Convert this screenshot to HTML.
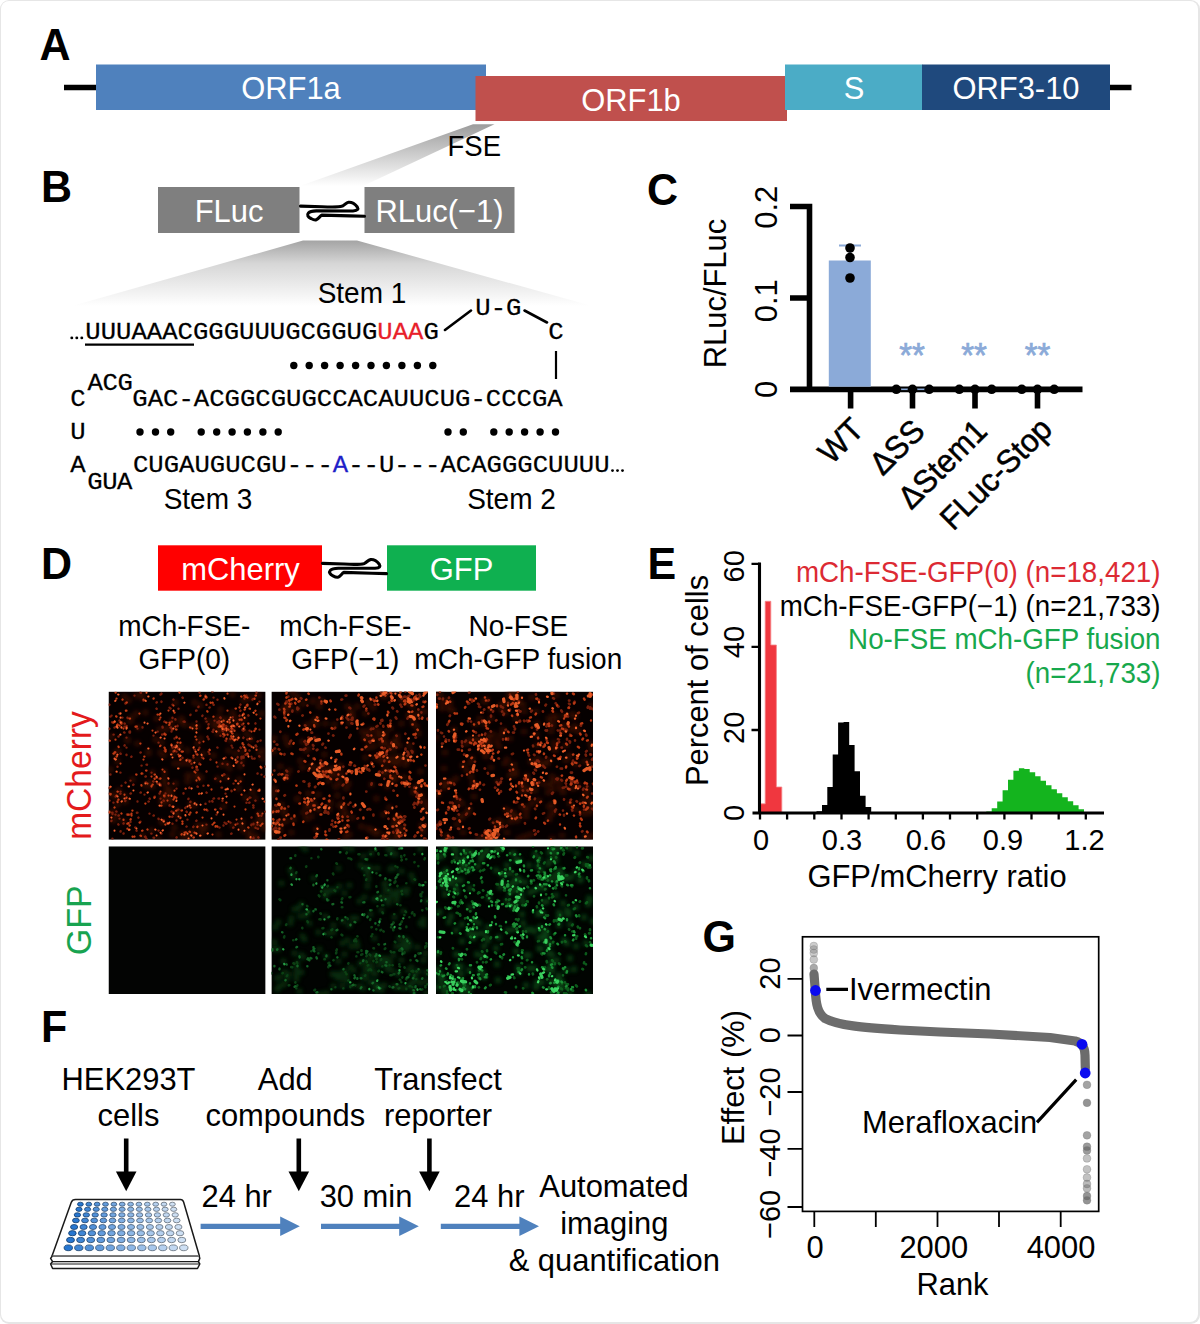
<!DOCTYPE html>
<html><head><meta charset="utf-8"><title>Figure</title>
<style>
html,body{margin:0;padding:0;background:#fff}
body{width:1200px;height:1324px;overflow:hidden}
svg{display:block}
text{font-family:"Liberation Sans",sans-serif}
.b{font-weight:bold;font-size:43px}
.w{fill:#fff}
.m{font-family:"Liberation Mono",monospace;font-size:24px;letter-spacing:0px;stroke:#000;stroke-width:0.25px}
.t30{font-size:30.9px}
.t27{font-size:28px}
</style></head><body>
<svg width="1200" height="1324" viewBox="0 0 1200 1324">
<defs>
<linearGradient id="g1" x1="0" y1="0" x2="0" y2="1"><stop offset="0" stop-color="#9c9c9c"/><stop offset="1" stop-color="#fff"/></linearGradient>
<linearGradient id="g2" x1="0" y1="0" x2="0" y2="1"><stop offset="0" stop-color="#a4a4a4"/><stop offset="0.35" stop-color="#d6d6d6"/><stop offset="1" stop-color="#fff"/></linearGradient>
<path id="sq" d="M300.5 206.1 L322 206.7 C330 207.2 338 207.4 342.5 206.1 C345 205 346 202.6 348.5 202.3 C352 202 355 204 357.3 207 C358.6 209 358 210.6 353 211 L316.3 210.9 C312 211 309.5 211.8 308.4 213 C306.6 215 308 217 311 218.5 C313 219.6 315 220.3 316.2 219.8 C318.5 219 320 216 321.8 215.1 L350 215.9 L364.5 216.3" fill="none" stroke="#000" stroke-width="3.1" stroke-linecap="round" stroke-linejoin="round"/>
<filter id="bl1" x="-5%" y="-5%" width="110%" height="110%"><feGaussianBlur stdDeviation="0.7"/></filter>
<filter id="bl2" x="-5%" y="-5%" width="110%" height="110%"><feGaussianBlur stdDeviation="2.2"/></filter>
</defs>
<rect x="0" y="0" width="1200" height="1324" rx="9" ry="9" fill="#e6e6e6"/><rect x="1" y="1" width="1197" height="1321" rx="8" ry="8" fill="#fff"/>
<g id="pA">
<text transform="translate(39.5 59.5) scale(1 1.04)" class="b">A</text>
<path d="M64 87.5H98M1108 87.5H1131.5" stroke="#000" stroke-width="5.5"/>
<rect x="96" y="64.5" width="390" height="45.5" fill="#4f81bd"/>
<rect x="475.5" y="76" width="311.5" height="45" fill="#c0504d"/>
<rect x="785" y="64.5" width="137.5" height="45.5" fill="#4bacc6"/>
<rect x="922" y="64.5" width="188" height="45.5" fill="#1f497d"/>
<text transform="translate(291 99) scale(1 1.04)" class="w t30" text-anchor="middle">ORF1a</text>
<text transform="translate(631 110.5) scale(1 1.04)" class="w t30" text-anchor="middle">ORF1b</text>
<text transform="translate(854 99) scale(1 1.04)" class="w t30" text-anchor="middle">S</text>
<text transform="translate(1016 99) scale(1 1.04)" class="w t30" text-anchor="middle">ORF3-10</text>
<polygon points="473,124.3 494.5,124.3 363,186 300,186" fill="url(#g1)"/>
<text transform="translate(447.5 156) scale(1 1.04)" font-size="27.5">FSE</text>
</g>
<g id="pB">
<text transform="translate(41 202) scale(1 1.04)" class="b">B</text>
<polygon points="303,240.5 357,240.5 592,306 72,306" fill="url(#g2)"/>
<rect x="158" y="187" width="141.5" height="46" fill="#7f7f7f"/>
<rect x="364.5" y="187" width="150" height="46" fill="#7f7f7f"/>
<text transform="translate(229 222) scale(1 1.04)" class="w t30" text-anchor="middle">FLuc</text>
<text transform="translate(439.5 222) scale(1 1.04)" class="w t30" text-anchor="middle">RLuc(&#8722;1)</text>
<use href="#sq"/>
<text transform="translate(362 302.5) scale(1 1.04)" class="t27" text-anchor="middle">Stem 1</text>
<text transform="translate(208 509) scale(1 1.04)" class="t27" text-anchor="middle">Stem 3</text>
<text transform="translate(511.5 509) scale(1 1.04)" class="t27" text-anchor="middle">Stem 2</text>
<text class="m" transform="translate(85.3 339.3) scale(1.068 1)">UUUAAACGGGUUUGCGGUG<tspan style="fill:#e8202a;stroke:#e8202a">UAA</tspan>G</text>
<path d="M85 344.7H194" stroke="#000" stroke-width="2.2"/>
<text class="m" transform="translate(475.3 314.5) scale(1.068 1)">U-G</text>
<text class="m" transform="translate(548.3 339.3) scale(1.068 1)">C</text>
<path d="M445 330L471 310.5M524.5 310.5L547 322.5" stroke="#000" stroke-width="2.6" stroke-linecap="round"/>
<path d="M556 351V379" stroke="#000" stroke-width="2.2"/>
<text class="m" transform="translate(70.3 405.8) scale(1.068 1)">C</text>
<text class="m" transform="translate(87.6 389.5) scale(1.068 1)" style="letter-spacing:-0.4px">ACG</text>
<text class="m" transform="translate(132.3 405.8) scale(1.068 1)">GAC-ACGGCGUGCCACAUUCUG-CCCGA</text>
<text class="m" transform="translate(70.3 438.8) scale(1.068 1)">U</text>
<text class="m" transform="translate(70.3 472.0) scale(1.068 1)">A</text>
<text class="m" transform="translate(87.2 488.8) scale(1.068 1)" style="letter-spacing:-0.4px">GUA</text>
<text class="m" transform="translate(133.0 472.0) scale(1.068 1)">CUGAUGUCGU---<tspan style="fill:#1f1fc8;stroke:#1f1fc8">A</tspan>--U---ACAGGGCUUUU</text>
<g fill="#000"><circle cx="71.8" cy="337.9" r="1.45"/><circle cx="76.8" cy="337.9" r="1.45"/><circle cx="81.8" cy="337.9" r="1.45"/><circle cx="612.5" cy="470.6" r="1.45"/><circle cx="617.5" cy="470.6" r="1.45"/><circle cx="622.5" cy="470.6" r="1.45"/></g>
<g fill="#000"><circle cx="293.8" cy="365.5" r="3.7"/><circle cx="309.2" cy="365.5" r="3.7"/><circle cx="324.6" cy="365.5" r="3.7"/><circle cx="340.1" cy="365.5" r="3.7"/><circle cx="355.6" cy="365.5" r="3.7"/><circle cx="371.0" cy="365.5" r="3.7"/><circle cx="386.4" cy="365.5" r="3.7"/><circle cx="401.9" cy="365.5" r="3.7"/><circle cx="417.4" cy="365.5" r="3.7"/><circle cx="432.8" cy="365.5" r="3.7"/><circle cx="140.0" cy="432.0" r="3.7"/><circle cx="155.5" cy="432.0" r="3.7"/><circle cx="170.7" cy="432.0" r="3.7"/><circle cx="201.2" cy="432.0" r="3.7"/><circle cx="216.7" cy="432.0" r="3.7"/><circle cx="232.1" cy="432.0" r="3.7"/><circle cx="247.4" cy="432.0" r="3.7"/><circle cx="262.9" cy="432.0" r="3.7"/><circle cx="278.2" cy="432.0" r="3.7"/><circle cx="448.0" cy="432.0" r="3.7"/><circle cx="463.3" cy="432.0" r="3.7"/><circle cx="493.8" cy="432.0" r="3.7"/><circle cx="509.2" cy="432.0" r="3.7"/><circle cx="524.6" cy="432.0" r="3.7"/><circle cx="540.1" cy="432.0" r="3.7"/><circle cx="555.5" cy="432.0" r="3.7"/></g>
</g>
<g id="pC">
<text transform="translate(647 204.5) scale(1 1.04)" class="b">C</text>
<path d="M790 206.5H812.3M790 298H809M809.5 203.8V392.2M790 389.4H1082.5M850.6 390V408.5M912.5 390V408.5M975 390V408.5M1037.5 390V408.5" stroke="#000" stroke-width="5.6" fill="none"/>
<rect x="828.8" y="260.5" width="42" height="126.2" fill="#8baad8"/>
<path d="M839 245.5H861M850 245.5V261" stroke="#8baad8" stroke-width="2.2"/>
<path d="M898 389.3H930" stroke="#8baad8" stroke-width="1.6"/>
<g fill="#000"><circle cx="850" cy="248" r="4.8"/><circle cx="850" cy="257.5" r="4.8"/><circle cx="850" cy="278" r="4.8"/><circle cx="896.3" cy="389.3" r="4.8"/><circle cx="912.5" cy="389.3" r="4.8"/><circle cx="929.2" cy="389.3" r="4.8"/><circle cx="959.3" cy="389.3" r="4.8"/><circle cx="975.0" cy="389.3" r="4.8"/><circle cx="991.7" cy="389.3" r="4.8"/><circle cx="1021.8" cy="389.3" r="4.8"/><circle cx="1037.5" cy="389.3" r="4.8"/><circle cx="1054.2" cy="389.3" r="4.8"/></g>
<g font-size="33" fill="#8baad8" stroke="#8baad8" stroke-width="0.7" text-anchor="middle"><text transform="translate(912 366.5) scale(1 1.04)">**</text><text transform="translate(974 366.5) scale(1 1.04)">**</text><text transform="translate(1037.5 366.5) scale(1 1.04)">**</text></g>
<text class="t30" transform="translate(776.8 207.3) rotate(-90) scale(1 1.04)" text-anchor="middle">0.2</text>
<text class="t30" transform="translate(776.8 300.7) rotate(-90) scale(1 1.04)" text-anchor="middle">0.1</text>
<text class="t30" transform="translate(776.8 389.3) rotate(-90) scale(1 1.04)" text-anchor="middle">0</text>
<text class="t30" transform="translate(726 293.5) rotate(-90) scale(1 1.04)" text-anchor="middle">RLuc/FLuc</text>
<g stroke="#000" stroke-width="0.5">
<text class="t30" transform="translate(865.5 431.5) rotate(-45) scale(1 1.04)" text-anchor="end">WT</text>
<text class="t30" transform="translate(926.5 433) rotate(-45) scale(1 1.04)" text-anchor="end">&#916;SS</text>
<text class="t30" transform="translate(989 433) rotate(-45) scale(1 1.04)" text-anchor="end">&#916;Stem1</text>
<text class="t30" transform="translate(1054 431) rotate(-45) scale(1 1.04)" text-anchor="end">FLuc-Stop</text>
</g>
</g>
<g id="pD">
<text transform="translate(41 578.5) scale(1 1.04)" class="b">D</text>
<rect x="158" y="545.3" width="164" height="45.4" fill="#ff0000"/>
<rect x="387" y="545.3" width="149" height="45.4" fill="#0fb050"/>
<text transform="translate(240.5 579.7) scale(1 1.04)" class="w t30" text-anchor="middle">mCherry</text>
<text transform="translate(461.5 579.7) scale(1 1.04)" class="w t30" text-anchor="middle">GFP</text>
<use href="#sq" transform="translate(22 357.3)"/>
<g class="t27" text-anchor="middle">
<text transform="translate(184.3 635.6) scale(1 1.04)">mCh-FSE-</text><text transform="translate(184.3 668.5) scale(1 1.04)">GFP(0)</text>
<text transform="translate(345.3 635.6) scale(1 1.04)">mCh-FSE-</text><text transform="translate(345.3 668.5) scale(1 1.04)">GFP(&#8722;1)</text>
<text transform="translate(518.3 635.6) scale(1 1.04)">No-FSE</text><text transform="translate(518.3 668.5) scale(1 1.04)">mCh-GFP fusion</text>
</g>
<text font-size="33.6" fill="#e31a1c" transform="translate(91.3 775.5) rotate(-90) scale(1 1.04)" text-anchor="middle">mCherry</text>
<text font-size="34" fill="#18a350" transform="translate(91.3 920.3) rotate(-90) scale(1 1.04)" text-anchor="middle">GFP</text>
<svg x="108.5" y="691.6" width="157.1" height="148.2" viewBox="0 0 157.1 148.2" overflow="hidden"><rect width="157.1" height="148.2" fill="#060000"/><path d="M2 78h0M30 36h0M151 126h0M154 59h0M136 27h0M95 62h0M109 87h0M110 143h0M50 148h0M69 124h0M107 30h0M92 47h0M154 67h0M5 129h0M124 3h0M37 21h0M112 27h0M124 134h0M147 107h0M86 114h0M4 120h0M126 26h0M124 21h0M133 133h0M79 90h0M97 137h0M56 92h0M69 56h0M142 47h0M114 38h0M143 144h0M108 28h0M81 84h0M156 137h0M64 29h0M40 60h0M75 144h0M72 30h0M115 35h0M89 88h0M118 28h0M67 92h0M15 130h0M109 42h0M56 108h0M69 119h0M138 42h0M82 113h0M92 135h0M76 33h0M66 136h0M130 31h0M57 102h0M130 97h0M59 105h0M89 68h0M62 99h0M131 88h0M52 61h0M99 29h0M88 83h0M86 11h0M79 59h0M89 134h0M47 48h0M56 87h0M74 31h0M145 133h0M138 7h0M137 106h0M12 33h0M112 29h0M44 81h0M141 146h0M82 141h0M28 22h0M124 35h0M34 144h0M67 11h0M112 40h0M121 77h0M62 35h0M24 88h0M34 6h0M37 94h0M67 58h0M10 60h0M51 38h0M65 62h0M143 6h0M153 22h0M54 131h0M151 122h0M84 35h0M20 9h0M16 104h0M105 34h0M147 147h0M112 18h0M19 49h0M23 26h0M19 48h0M57 38h0M28 4h0M63 105h0M142 48h0M53 110h0M55 64h0M84 141h0M111 26h0M79 84h0M44 95h0M16 5h0M97 134h0M105 64h0M54 104h0M40 62h0M141 141h0M62 110h0M117 38h0M115 115h0M148 133h0M151 61h0M7 62h0M8 124h0M118 72h0M64 143h0M93 142h0M135 60h0M9 113h0M118 86h0M155 136h0M17 110h0M75 145h0M110 35h0M72 72h0M114 39h0M122 39h0M89 52h0M10 99h0M66 72h0M135 139h0M150 4h0M53 51h0M121 39h0M120 36h0M71 55h0M43 139h0M29 52h0M48 27h0M13 33h0M133 69h0M148 145h0M120 59h0M33 3h0M73 27h0M134 131h0M80 146h0M77 71h0M132 75h0M128 45h0M10 99h0M154 129h0M146 135h0M122 49h0M82 72h0M117 37h0M65 60h0M74 142h0M150 132h0M7 105h0M9 70h0M70 54h0M41 91h0M127 62h0M55 112h0M56 80h0M59 97h0M53 130h0M92 14h0M135 9h0M3 103h0M65 58h0M3 45h0M93 86h0M22 30h0M144 100h0M113 73h0M93 136h0M89 35h0" stroke="#5a1406" stroke-width="6" stroke-linecap="round" fill="none" opacity="0.55" filter="url(#bl2)"/><path d="M23 65l-0.2 0.2M12 102l-0.2 0.1M64 125l-0.3 0.2M18 63l-0.0 0.4M49 92l0.2 0.0M109 8l-0.0 0.1M57 102l-0.0 -0.2M18 35l0.1 -0.6M4 122l-0.0 0.5M61 114l0.1 -0.4M54 36l0.3 0.0M157 75l-0.1 -0.1M149 133l0.0 0.2M111 32l-0.0 0.5M91 51l-0.1 0.2M116 83l-0.4 -0.4M124 56l-0.0 0.0M62 36l0.5 -0.1M51 102l0.1 -0.3M54 35l0.0 0.1M148 1l-0.1 0.3M55 109l0.4 0.2M65 92l-0.0 -0.0M64 56l0.2 -0.2M63 120l0.2 -0.1M115 45l0.1 -0.3M138 4l-0.2 -0.2M2 25l0.1 0.0M112 44l0.0 0.2M132 19l-0.2 0.2M17 12l-0.1 -0.2M1 37l-0.1 0.3M147 54l0.4 -0.1M117 37l-0.3 -0.4M91 56l0.0 0.1M79 68l0.1 0.0M63 30l0.4 0.0M12 100l0.1 -0.0M118 35l-0.2 -0.5M66 47l0.0 -0.1M65 8l-0.1 -0.1M18 46l0.0 0.0M19 123l-0.5 -0.1M17 91l0.1 0.1M56 59l-0.0 0.0M57 43l-0.4 0.1M22 89l-0.0 0.0M50 139l0.1 0.0M111 30l-0.3 -0.5M151 10l-0.1 -0.0M143 47l0.1 0.2M75 30l0.1 0.0M107 87l-0.5 0.2M74 66l0.0 0.5M32 61l0.2 -0.2M51 87l0.0 0.1M140 24l-0.2 -0.4M78 135l0.1 -0.1M43 81l-0.0 0.0M135 39l-0.1 0.2M7 123l0.0 0.0M1 109l0.2 -0.0M14 26l-0.3 0.0M125 136l-0.3 0.1M53 142l-0.3 -0.0M41 107l0.3 0.2M144 148l-0.2 -0.4M1 13l-0.1 0.3M15 132l0.2 -0.4M130 46l0.2 0.1M112 26l0.2 0.4M116 34l-0.2 0.1M98 13l0.0 0.3M67 28l-0.1 -0.4M70 17l0.0 0.2M11 127l-0.0 -0.0M52 107l0.0 -0.0M11 22l-0.1 -0.1M139 63l0.4 -0.1M145 146l0.1 0.3M124 38l0.3 -0.4M10 133l-0.2 -0.3M60 92l-0.0 -0.5M70 118l-0.4 -0.0M98 80l0.1 -0.3M9 33l0.1 0.3M81 96l-0.3 0.3M75 102l-0.0 -0.5M21 123l0.0 0.0M22 102l0.4 -0.2M141 106l0.5 -0.0M141 39l0.1 -0.0M136 38l0.1 0.3M82 69l0.0 -0.1M123 54l0.1 -0.0M141 106l0.1 0.3M64 13l0.0 0.0M151 38l0.0 0.0M132 56l0.2 0.3M100 33l0.1 -0.5M123 142l-0.4 0.2M32 1l0.4 0.3M4 147l-0.1 0.0M102 68l-0.1 0.1M2 83l-0.0 -0.2M116 131l0.1 0.0M117 49l0.5 0.3M141 111l-0.4 0.2M8 120l-0.2 -0.1M34 36l-0.0 -0.3M112 117l0.6 0.2M77 116l-0.2 0.3M37 145l-0.5 0.3M50 51l0.0 0.0M135 66l0.2 0.1M101 16l0.2 -0.2M98 30l0.1 -0.0M130 46l0.1 -0.0M117 66l0.1 -0.1M104 0l-0.3 -0.2M49 40l0.2 -0.0M8 120l0.0 -0.0M52 3l0.3 -0.2M64 38l-0.6 -0.1M114 109l-0.1 0.3M109 56l-0.2 -0.1M48 17l0.2 0.2M82 110l-0.1 0.4M142 106l-0.0 0.0M59 132l-0.2 -0.5M96 7l-0.1 -0.1M91 72l-0.2 0.5M88 19l-0.4 0.1M89 95l0.4 0.2M62 17l0.1 -0.1M82 23l-0.1 0.4M110 107l0.5 -0.1M91 1l0.1 0.0M55 129l0.2 -0.2M32 101l0.3 -0.1M97 27l0.1 -0.1M45 124l0.3 -0.1M105 6l0.1 0.0M11 29l0.2 0.1M105 107l0.6 -0.2M6 36l0.2 -0.1M12 140l0.1 -0.4M144 8l0.3 -0.5M35 9l0.2 -0.4M64 132l-0.0 0.1M56 30l-0.2 0.1M115 134l0.0 -0.1M133 28l0.1 0.4M126 35l0.0 0.0M117 102l0.0 0.0M88 78l0.4 0.3M147 136l-0.0 0.1M43 142l-0.2 0.0M99 119l0.0 0.0M101 62l-0.0 0.3M130 59l0.2 0.2M29 121l-0.6 0.1M122 131l-0.1 -0.1M100 60l0.0 0.1M118 132l-0.4 0.4M33 74l0.1 -0.0M151 65l-0.3 -0.4M65 121l0.4 -0.2M16 35l-0.0 -0.0M134 38l-0.0 0.6M149 50l0.4 -0.3M122 47l-0.2 0.4M152 49l0.1 -0.2M153 124l-0.1 0.2M145 147l-0.0 -0.0M45 146l0.6 0.1M156 85l-0.2 0.1M88 19l-0.3 -0.2M147 32l-0.1 -0.3M57 58l0.0 0.0M114 72l-0.0 0.2M1 102l0.3 -0.0M78 120l0.3 0.4M132 13l-0.1 0.2M145 114l-0.3 -0.3M95 94l0.0 0.2M113 96l0.6 0.0M141 54l0.3 -0.3M124 34l0.1 0.4M133 67l-0.1 0.0M19 26l0.1 0.5M27 136l-0.3 -0.2M114 39l0.2 0.3M85 66l0.1 -0.1M123 99l0.1 0.6M105 38l-0.0 0.3M10 124l0.4 -0.2M84 76l-0.1 0.2M56 105l0.0 0.0M98 133l-0.1 -0.0M64 26l-0.0 0.5M45 44l0.0 0.0M46 105l0.4 0.1M136 35l0.0 0.2M54 43l-0.4 -0.1M32 130l0.0 -0.0M61 16l-0.0 0.0M94 24l-0.2 0.3M88 34l-0.1 0.2M143 133l-0.2 0.6M129 66l0.2 -0.5M4 31l-0.4 -0.4M7 105l-0.0 -0.0M104 40l0.4 0.4M70 57l-0.4 -0.1M94 66l-0.5 -0.2M13 94l0.0 0.1M50 127l0.1 0.4M139 48l-0.3 -0.2M28 139l0.1 0.2M129 132l-0.0 0.1M37 91l0.5 -0.1M15 142l0.1 -0.2M48 11l0.3 -0.4M100 47l0.1 0.6M26 4l0.0 -0.0M147 109l0.0 0.0M68 129l-0.0 -0.1M108 123l0.0 0.0M99 45l-0.2 0.1M12 81l-0.1 -0.0M109 31l-0.1 -0.4M1 96l-0.5 0.4M144 67l-0.3 -0.2M83 72l0.0 0.2M63 40l-0.0 -0.2M76 30l0.2 0.2M68 60l-0.1 0.0M145 132l0.0 0.6M10 45l0.1 -0.2M123 37l0.0 -0.4M131 24l0.1 0.3M16 32l0.3 0.1M5 111l-0.1 -0.0M157 120l-0.1 -0.0M104 110l-0.3 -0.5M68 97l0.0 -0.0M112 26l-0.3 -0.2M111 136l0.1 -0.1M98 101l0.2 0.1M17 109l-0.3 0.4M40 110l0.3 -0.2M7 61l0.0 -0.3M68 45l-0.0 0.3M65 60l-0.1 -0.2M149 82l0.1 -0.2M97 112l0.0 0.3M146 67l0.1 -0.2M53 2l-0.1 0.3M21 40l0.5 -0.1M51 92l-0.0 -0.1M135 55l-0.3 -0.3M53 10l-0.1 0.3M97 4l0.3 0.5M38 147l-0.2 -0.3M68 146l0.2 -0.4M57 43l-0.2 0.3M74 6l0.3 0.3M88 129l-0.2 0.2M143 126l0.1 -0.2M89 78l0.2 0.4M80 107l-0.1 0.5M125 92l0.1 -0.0M148 55l-0.5 -0.2M136 7l-0.2 -0.3M105 13l0.2 0.2M153 83l0.0 -0.0M88 30l-0.0 -0.2M133 65l-0.1 0.5M66 55l-0.2 0.2M138 14l0.2 -0.0M5 43l0.2 -0.0M143 65l-0.0 -0.0M52 94l0.3 -0.0M134 33l-0.6 0.0M41 122l-0.0 0.0M106 29l-0.0 0.0M149 137l0.5 0.1M124 26l0.1 -0.4M141 59l-0.1 -0.2M34 82l-0.2 -0.1M45 90l-0.3 -0.3M88 76l-0.1 0.1M145 116l-0.1 0.1M37 85l0.4 -0.2M138 111l-0.0 0.1M4 121l-0.5 -0.0M3 129l-0.1 0.4M140 53l-0.1 0.1M16 54l0.2 -0.4M25 93l-0.3 0.3M135 46l-0.2 0.4M150 146l-0.2 -0.3M133 71l-0.1 0.4M69 34l0.0 0.6M16 41l-0.4 -0.2M3 24l0.1 0.0M30 126l-0.1 0.1M88 62l-0.3 0.2M29 110l0.0 -0.1M52 93l-0.0 -0.1M119 73l0.0 -0.5M135 65l-0.1 -0.2M85 135l-0.3 0.4M135 74l0.0 -0.1M22 130l-0.0 0.5M101 110l0.0 -0.1M18 56l0.0 0.0M90 15l-0.1 0.5M79 128l-0.1 -0.0M9 75l0.0 0.1M147 109l-0.1 0.1M137 63l0.3 0.2M36 103l0.0 0.0M38 73l0.5 0.1M29 37l-0.0 -0.0M21 41l0.5 -0.1M86 58l0.5 0.0M109 75l0.1 0.0M12 62l0.2 0.2" stroke="#80200c" stroke-width="2.4" stroke-linecap="round" fill="none" opacity="0.95" filter="url(#bl1)"/><path d="M133 28l-0.5 -0.1M68 46l0.2 -0.0M91 88l0.0 -0.4M87 81l-0.0 -0.1M69 51l0.2 0.0M116 38l-0.0 -0.2M32 52l-0.2 -0.0M22 128l0.3 -0.5M129 32l-0.5 0.3M141 17l0.5 0.2M14 8l0.1 -0.1M71 1l-0.1 -0.3M23 124l0.1 -0.0M38 79l-0.5 -0.1M13 32l-0.1 -0.1M32 144l0.5 0.3M18 19l-0.6 0.1M61 31l0.3 0.4M2 103l0.2 -0.5M82 116l0.2 0.0M66 105l0.4 0.1M52 54l-0.4 0.5M139 13l-0.3 0.3M66 21l0.1 -0.1M82 36l-0.5 -0.2M118 111l-0.2 -0.0M72 126l-0.1 0.5M100 36l0.1 0.3M28 83l-0.3 -0.1M127 89l0.3 0.3M104 133l0.2 -0.1M9 33l-0.3 0.5M10 108l-0.1 -0.1M46 83l0.5 0.0M19 132l-0.2 0.2M66 59l-0.1 0.4M108 71l-0.0 -0.2M81 140l0.5 0.3M128 128l0.0 -0.0M71 65l-0.4 -0.2M92 4l-0.4 0.3M28 35l0.3 -0.1M85 64l-0.1 0.1M123 66l-0.0 0.1M119 43l0.1 0.1M33 82l0.2 -0.3M73 143l0.2 -0.5M54 78l0.0 -0.0M88 48l0.0 -0.0M107 135l0.1 -0.5M39 138l-0.1 -0.2M73 60l0.0 0.0M51 23l-0.1 -0.1M71 47l-0.2 -0.0M118 47l0.1 0.2M137 58l-0.0 -0.3M72 68l-0.2 0.2M140 32l-0.3 -0.1M91 102l-0.5 0.2M15 37l0.0 -0.1M76 141l-0.0 0.1M43 85l-0.0 0.0M111 34l-0.0 -0.3M115 42l-0.5 0.3M147 19l-0.2 0.3M18 11l0.3 -0.1M74 130l-0.2 -0.1M127 17l0.5 -0.0M113 34l-0.1 0.2M140 136l-0.3 -0.2M129 70l-0.1 -0.0M1 121l-0.4 -0.2M13 31l0.0 -0.3M136 4l-0.3 0.1M115 33l-0.3 -0.1M5 31l0.2 0.0M48 86l0.5 -0.0M34 139l-0.4 0.1M68 106l0.0 0.2M114 36l-0.4 -0.0M44 93l0.3 0.0M21 134l0.3 -0.2M8 104l0.1 -0.0M8 65l0.4 -0.3M149 122l0.3 0.1M92 73l0.0 -0.1M123 45l-0.3 -0.4M6 116l0.1 -0.2M126 98l0.3 0.1M150 124l0.1 0.3M16 103l-0.0 0.2M58 31l-0.5 -0.1M125 48l0.2 -0.0M31 131l0.4 0.0M89 135l-0.2 0.4M35 68l0.0 -0.0M88 89l-0.0 -0.2M72 51l-0.1 0.2M152 27l-0.1 -0.0M24 119l-0.2 0.0M133 103l0.1 0.1M13 122l-0.1 -0.2M102 11l0.1 0.2M116 43l0.1 0.6M60 19l0.0 -0.1M74 132l-0.1 0.3M129 48l-0.2 -0.0M128 71l-0.5 -0.1M114 35l0.2 0.3M6 30l0.2 0.3M66 106l-0.2 0.4M121 31l0.4 -0.4M61 33l-0.3 0.2M56 56l0.2 0.4M137 118l0.0 -0.3M153 76l-0.2 0.4M43 95l0.0 -0.5M119 19l-0.0 0.1M119 2l-0.0 0.1M94 126l0.1 0.0M124 47l-0.3 0.0M132 90l0.2 -0.1M135 22l0.3 0.5M104 11l0.2 0.1M112 90l0.0 -0.2M136 18l0.4 -0.1M146 39l-0.2 0.5M152 134l0.3 -0.1M135 53l0.0 0.0M57 60l0.2 -0.5M99 20l-0.3 -0.4M95 50l0.0 -0.1M9 110l0.1 0.5M52 87l0.1 -0.2M104 143l-0.0 0.0M106 131l-0.4 0.3M143 55l0.1 0.2M86 141l0.3 0.1M1 49l0.4 0.1M36 65l-0.3 0.0M98 118l-0.0 0.2M77 141l0.4 -0.4M1 120l0.0 -0.1M24 145l0.1 0.2M6 61l0.4 -0.4M126 39l0.0 0.4M150 99l-0.2 0.2M137 5l0.1 0.4M134 52l0.1 -0.6M139 62l-0.3 0.0M52 100l-0.0 -0.1M88 121l0.3 -0.3M27 35l0.0 0.2M129 33l-0.5 0.0M139 6l-0.1 -0.1M73 119l0.5 -0.2M45 7l0.2 -0.2M57 133l-0.2 0.0M7 1l0.3 -0.0M60 104l0.1 -0.0M9 100l0.3 0.1M86 80l0.0 0.1M57 43l0.1 0.0M51 28l-0.0 0.0M56 42l-0.1 0.4M127 133l-0.0 0.2M53 114l-0.1 0.1M100 94l-0.4 -0.2M95 8l0.3 0.1M107 118l-0.5 -0.1M103 98l-0.0 -0.2M109 135l-0.4 -0.4M74 60l0.4 -0.1M115 29l0.2 0.1M124 34l-0.2 0.0M131 16l0.0 -0.3M143 40l0.0 -0.0M65 14l0.0 -0.1M31 22l-0.1 -0.0M72 68l-0.3 0.2M52 26l0.0 -0.0M39 92l-0.1 0.0M135 32l-0.0 -0.1M90 86l0.2 0.5M110 35l0.5 0.2M23 122l-0.1 0.6M35 8l0.0 0.0M37 112l-0.2 0.0M82 121l-0.1 -0.1M12 72l-0.0 0.0M44 39l0.0 0.0M20 123l-0.5 0.1M57 58l-0.2 -0.0M68 119l-0.4 0.1M95 67l0.0 -0.0M26 145l-0.1 -0.1M85 146l0.4 -0.2M133 5l-0.3 -0.2M120 130l0.0 -0.0M11 34l-0.0 0.0M101 58l0.3 0.5M96 118l-0.1 -0.1M46 106l-0.1 0.2M147 37l0.4 0.2M59 109l-0.0 0.0M148 23l-0.2 -0.0M53 111l0.0 -0.2M114 37l0.0 0.3M67 35l-0.1 0.0M20 132l-0.0 -0.5M88 37l0.2 -0.3M56 104l-0.5 0.1M66 99l0.0 0.1M146 7l0.1 0.3M56 80l0.1 0.3M139 108l0.1 -0.3M7 48l0.0 0.1M154 122l0.0 0.0M15 128l-0.0 0.4M65 108l0.1 -0.2M77 97l0.3 0.1M156 110l0.0 -0.0M139 14l-0.4 -0.4M137 59l-0.2 0.3M98 6l0.1 -0.4M46 87l0.2 0.4M120 38l-0.3 -0.2M81 123l-0.4 -0.3M68 38l-0.5 -0.2M49 23l0.0 0.0M61 125l0.2 0.2M33 94l-0.1 -0.5M126 115l0.0 0.0M154 132l-0.3 0.3M105 25l-0.1 0.1M81 69l0.1 0.4M8 25l-0.4 -0.4M18 106l-0.1 0.3M123 37l0.4 -0.1M148 58l-0.0 0.4M70 63l-0.1 0.0M131 28l0.2 0.2M19 137l-0.1 0.1M122 40l-0.0 -0.2M89 63l-0.3 0.1M147 4l0.5 0.0M81 70l-0.0 0.1M151 98l-0.1 -0.0M99 37l0.1 0.0M5 62l0.2 0.1M87 45l-0.1 0.1M10 55l0.2 0.5M114 84l-0.3 -0.2M21 27l0.6 0.0M88 75l0.4 0.1M63 53l-0.1 -0.2M90 58l-0.2 0.3M124 42l-0.4 -0.2M8 7l0.1 0.0M64 115l-0.1 -0.1" stroke="#c03a14" stroke-width="2.2" stroke-linecap="round" fill="none" filter="url(#bl1)"/><path d="M125 74l0.2 0.4M136 139l-0.1 0.1M40 57l-0.3 0.0M40 5l-0.3 0.0M130 138l-0.0 0.2M125 45l-0.1 -0.2M60 87l-0.2 -0.4M54 139l0.4 -0.4M135 37l0.0 0.1M136 83l-0.0 -0.3M130 46l0.1 0.4M13 110l0.4 -0.4M6 67l0.0 0.2M20 95l0.6 0.0M136 26l0.1 0.4M47 138l-0.3 -0.1M137 16l-0.5 -0.1M3 126l-0.1 -0.1M2 95l0.2 0.2M80 147l0.1 -0.0M88 142l-0.2 -0.3M52 141l0.1 0.1M65 122l-0.1 -0.2M86 71l-0.2 0.2M145 21l0.3 0.3M83 144l-0.3 -0.2M7 9l-0.3 0.4M88 34l0.1 -0.3M9 105l0.1 0.0M79 115l0.0 0.0M9 36l-0.2 -0.3M51 93l0.2 0.5M54 68l-0.3 -0.3M85 56l0.2 -0.4M60 132l-0.6 -0.1M53 128l0.3 0.3M6 30l0.2 -0.2M28 137l0.0 -0.1M76 11l-0.1 0.1M61 131l-0.3 0.3M113 30l0.1 0.2M118 105l0.1 -0.1M125 34l0.4 0.4M52 22l-0.0 -0.0M25 99l-0.1 -0.0M114 37l0.2 0.4M118 37l-0.1 -0.2M65 37l-0.3 -0.0M16 107l-0.1 0.0M134 24l0.1 -0.5M12 43l-0.2 0.1M136 99l-0.2 -0.2M21 138l-0.5 0.3M63 54l0.1 -0.1M93 63l0.2 0.4M114 107l0.4 -0.1M84 37l-0.0 0.0M18 37l0.3 -0.5M103 127l0.0 -0.4M87 60l0.3 -0.1M123 40l0.1 -0.1M21 107l0.4 0.2M116 7l-0.2 -0.5M92 113l0.1 0.1M70 125l-0.0 -0.0M65 115l-0.2 0.3M7 68l0.4 -0.2M76 143l-0.2 0.1M131 35l-0.4 -0.0M127 48l0.0 -0.0M39 101l0.4 -0.2M67 56l0.1 0.0M145 56l-0.0 0.1M79 142l0.0 0.1M134 132l-0.1 -0.2M154 107l0.4 0.3M39 32l0.1 -0.1M86 112l0.2 -0.4M37 92l-0.1 -0.0M77 124l-0.1 -0.5M93 102l0.4 -0.4M119 97l0.3 0.5M8 80l0.2 0.1M10 3l-0.4 -0.1M63 63l-0.5 -0.1M126 49l0.1 -0.5M88 41l-0.1 -0.2M68 55l0.4 0.1M48 144l0.1 -0.0M124 67l0.0 -0.0M72 64l-0.4 0.3M78 69l-0.1 -0.3M12 26l-0.0 0.1M68 54l0.2 0.3M56 47l0.1 0.0M125 29l-0.1 -0.3M81 114l0.3 0.0M144 93l0.3 -0.1M115 123l-0.0 0.1M136 56l-0.1 0.0M48 85l-0.0 0.0M123 35l-0.4 -0.3M130 92l-0.4 -0.0M149 12l-0.2 0.6M68 109l-0.1 0.5M55 130l0.4 0.0M83 97l0.2 -0.2M133 127l0.0 0.1M117 98l0.6 -0.0M88 113l0.0 0.2M109 121l0.2 -0.5M51 114l0.3 0.1M36 31l0.0 0.1M13 36l-0.1 -0.3M152 75l0.1 0.4M9 63l-0.1 0.1M6 139l-0.0 0.1M71 58l0.1 -0.2M99 142l0.4 -0.2M70 77l-0.5 -0.1M122 26l-0.0 0.0M94 134l-0.0 -0.0M115 67l0.5 -0.3M64 66l-0.0 0.0M18 36l0.1 -0.0M52 46l0.3 -0.1M8 35l0.4 -0.3M142 98l0.1 0.2M119 30l-0.1 0.1M47 41l0.1 -0.1M151 99l0.0 0.1M37 9l0.3 0.4M65 19l0.1 0.3M141 47l0.3 0.3M142 146l0.1 -0.6M48 90l0.4 0.1M118 39l-0.0 -0.2M140 65l-0.1 -0.2M108 40l-0.4 -0.3M12 22l0.1 -0.2M127 68l-0.0 0.6M63 104l0.0 0.3M121 28l-0.2 0.1M149 131l-0.1 -0.0M92 144l-0.4 0.1M12 31l0.2 -0.2M97 5l0.0 0.2M38 1l0.0 0.1M120 87l-0.1 0.2M112 35l0.4 -0.2" stroke="#f6602e" stroke-width="2.0" stroke-linecap="round" fill="none" filter="url(#bl1)"/></svg>
<svg x="271.4" y="691.6" width="156.7" height="148.2" viewBox="0 0 156.7 148.2" overflow="hidden"><rect width="156.7" height="148.2" fill="#060000"/><path d="M36 34h0M37 116h0M120 86h0M48 15h0M137 24h0M131 8h0M114 4h0M43 114h0M107 141h0M150 134h0M15 14h0M51 73h0M111 82h0M124 1h0M10 113h0M115 143h0M17 11h0M69 77h0M63 33h0M37 57h0M116 69h0M150 104h0M40 125h0M110 3h0M125 50h0M139 11h0M42 9h0M114 78h0M130 32h0M55 79h0M142 101h0M122 134h0M138 54h0M128 54h0M115 147h0M127 72h0M118 56h0M107 44h0M102 55h0M121 86h0M104 66h0M115 78h0M124 129h0M21 1h0M71 113h0M54 32h0M124 127h0M142 25h0M100 93h0M18 79h0M42 111h0M53 63h0M35 114h0M81 27h0M64 95h0M124 144h0M26 108h0M15 86h0M75 97h0M26 5h0M124 145h0M32 121h0M101 47h0M147 42h0M96 56h0M74 145h0M3 97h0M26 107h0M97 11h0M155 117h0M16 52h0M94 66h0M70 84h0M134 11h0M68 114h0M125 146h0M126 45h0M153 20h0M134 73h0M129 66h0M105 107h0M109 69h0M45 33h0M112 62h0M78 143h0M118 116h0M94 22h0M1 119h0M47 118h0M97 137h0M13 122h0M130 7h0M110 53h0M119 67h0M86 15h0M9 139h0M74 122h0M128 143h0M9 75h0M149 93h0M151 140h0M15 15h0M81 126h0M124 66h0M133 86h0M149 80h0M81 24h0M129 66h0M50 9h0M141 15h0M93 47h0M7 132h0M61 83h0M131 137h0M142 32h0M18 15h0M106 39h0M29 69h0M12 18h0M122 89h0M15 83h0M147 22h0M42 30h0M13 119h0M126 139h0M58 81h0M17 53h0M113 68h0M77 92h0M6 118h0M104 142h0M68 75h0M100 38h0M57 89h0M74 136h0M35 34h0M3 47h0M148 111h0M91 40h0M59 111h0M2 60h0M45 48h0M122 57h0M76 15h0M35 127h0M126 131h0M71 125h0M2 103h0M32 12h0M111 49h0M143 99h0M114 82h0M80 20h0M41 10h0M145 35h0M127 66h0M124 87h0M58 118h0M44 78h0M127 125h0M136 69h0M78 31h0M7 133h0M102 16h0M110 42h0M14 46h0M130 8h0M61 77h0M31 50h0M122 50h0M16 20h0M66 104h0M40 74h0M140 61h0M45 138h0M68 92h0M101 139h0M90 135h0M26 18h0M114 43h0M96 41h0M113 0h0M116 95h0M50 80h0M119 37h0M64 84h0M122 72h0M124 84h0M14 130h0M143 96h0M112 70h0M99 48h0M45 27h0M117 57h0M72 117h0M133 66h0M20 141h0M155 111h0M114 51h0M2 141h0M34 59h0M69 74h0M79 23h0M113 5h0M31 76h0M112 123h0M47 103h0M37 102h0M6 137h0M22 128h0" stroke="#561405" stroke-width="6" stroke-linecap="round" fill="none" opacity="0.6" filter="url(#bl2)"/><path d="M150 21l-0.0 -0.3M156 27l0.2 0.8M145 105l1.0 0.4M138 87l0.0 -0.1M122 141l-0.3 -0.6M5 137l-0.9 -1.0M144 46l0.6 -0.0M51 53l0.6 -0.9M148 3l0.0 -0.0M99 50l0.3 -0.1M108 64l0.6 0.6M136 27l0.7 -1.1M131 6l-0.8 0.9M133 5l1.3 0.3M113 69l-0.2 0.7M36 39l0.0 0.0M101 8l0.8 0.0M5 114l-1.1 -0.4M37 79l0.4 -0.5M80 28l0.2 -0.2M31 24l0.3 -0.2M15 10l0.5 -0.2M102 48l-0.7 0.3M55 121l0.1 0.0M81 32l-1.0 -0.3M37 46l0.5 0.2M72 93l-0.7 0.8M57 42l0.1 -0.0M13 23l-0.1 -0.0M100 93l0.3 -1.3M112 35l-0.2 -0.8M75 26l0.1 0.0M8 18l0.0 0.1M98 50l0.9 1.0M108 80l-0.7 1.0M134 58l0.1 -1.1M96 118l0.8 -0.5M44 95l-0.4 0.5M71 25l-0.0 0.0M124 94l0.8 0.2M30 58l-1.3 -0.2M116 2l-0.8 -0.8M75 4l-0.8 0.1M18 52l0.0 -0.0M36 52l0.6 0.1M120 51l-0.2 0.6M62 135l0.2 0.1M150 138l0.7 0.5M38 48l0.0 0.0M125 56l-0.2 -0.5M66 124l1.3 0.2M133 128l-1.3 0.1M42 54l-0.5 -0.6M37 64l-0.1 0.1M82 115l0.6 -0.1M61 129l-0.1 0.2M7 13l-1.1 -0.8M115 144l-0.9 0.7M126 82l-0.2 -0.7M35 53l-0.6 -0.8M43 46l0.1 -0.0M117 79l0.2 0.3M70 32l0.4 0.2M79 111l-0.3 0.1M36 14l-0.0 0.0M143 145l0.9 -0.5M130 15l0.2 0.2M108 48l0.0 -0.2M142 113l-0.0 -0.1M99 118l-0.7 -0.7M154 147l-1.1 -0.3M112 57l1.3 -0.5M83 74l0.6 0.2M145 112l0.8 0.7M117 127l0.1 0.2M125 115l0.0 0.0M152 10l-0.0 0.3M134 125l-1.1 -0.2M143 116l-0.1 -0.4M142 8l-0.0 1.1M72 106l-0.1 0.9M70 8l0.8 -0.1M20 127l-0.1 0.0M154 133l-0.1 1.3M41 109l0.1 0.0M126 20l-0.3 -0.3M62 44l-0.3 -0.2M125 139l0.1 0.3M114 107l-0.2 -0.9M51 92l1.0 0.2M110 1l0.1 -0.7M77 113l0.0 0.0M75 36l0.1 -0.0M154 74l0.1 0.0M53 121l1.2 -0.8M58 139l0.1 -1.3M34 57l0.0 -0.1M145 4l-0.7 0.6M98 79l-0.4 -1.0M147 18l-0.1 -0.2M36 121l-1.1 0.8M148 107l-0.2 -0.2M138 4l-1.2 0.7M138 95l-0.0 0.1M46 87l0.3 -0.8M38 94l-0.4 0.5M21 19l-0.1 1.0M100 71l-0.2 0.7M139 88l0.8 -0.4M9 40l-0.1 0.2M48 6l-0.1 0.0M137 63l0.1 -0.6M146 102l-0.4 0.1M4 132l-0.2 -0.6M3 50l-0.3 0.1M136 64l0.1 0.1M111 147l0.1 1.0M58 110l-0.1 -0.2M54 56l0.4 0.1M110 29l-0.1 -0.3M95 100l-0.2 0.0M150 111l0.2 -0.8M96 146l-1.3 0.5M126 138l-0.4 -0.0M141 2l-0.5 -1.2M4 26l-0.9 -0.9M118 11l-0.4 -0.1M128 130l-0.1 -0.1M3 57l0.7 -0.1M122 99l0.4 0.1M141 60l-0.9 -0.8M15 11l0.4 -0.2M13 104l0.6 -0.4M97 44l-1.1 -0.5M111 29l-0.2 -0.8M42 67l0.5 0.0M109 32l-0.0 -0.6M78 73l1.2 0.2M27 17l-0.7 0.8M5 99l-0.3 0.4M30 7l-0.6 -0.4M86 127l0.7 -0.4M38 92l-0.5 0.6M102 124l0.0 -1.0M40 41l0.7 0.1M60 133l0.5 -0.4M129 13l0.1 0.2M16 84l-1.1 -0.2M78 46l0.1 -0.5M119 29l0.4 0.1M119 58l-0.6 -0.4M42 57l-0.2 0.2M72 75l-0.2 0.1M140 8l-0.1 -0.2M136 60l0.8 1.1M76 125l0.5 0.1M97 22l-0.1 0.0M93 14l-0.8 0.9M13 63l0.1 -0.5M89 118l-0.3 0.2M130 144l0.2 -0.4M81 28l0.1 -1.3M5 140l-0.2 0.9M79 44l0.3 -0.7M131 67l0.4 -0.2M102 37l-0.5 0.1M59 79l-0.3 1.3M108 93l0.5 0.2M129 129l0.4 -0.0M134 143l-0.6 -1.1M143 7l0.0 0.3M3 79l-0.0 -0.1M77 28l-1.0 -0.8M105 35l1.1 -0.7M42 101l-1.1 0.1M43 146l1.0 -0.2M47 76l-0.0 1.1M149 5l-0.6 -0.1M66 126l0.6 1.0M17 5l-0.0 -0.0M143 96l0.0 0.1M33 90l-1.0 -0.3M134 42l-0.1 0.2M46 58l-0.7 0.5M50 12l0.1 0.0M125 27l-0.7 -1.1M142 52l-0.1 -0.0M114 120l-0.4 -0.0M144 144l-0.4 -0.1M26 16l-0.1 1.3M54 119l-0.4 0.5M49 69l0.6 -0.0M81 26l-0.2 0.3M92 114l0.6 1.0M67 148l0.8 -0.3M95 19l-0.1 -0.1M32 58l0.5 0.2M28 101l0.9 0.4M57 122l-0.3 -1.2M20 12l-0.5 0.5M6 129l0.5 0.2M102 75l0.3 -0.2M8 58l-0.7 -0.4M115 61l0.0 0.4M78 16l0.9 0.7M63 37l0.8 -0.8M107 64l0.0 -0.0M125 44l0.3 0.2M121 16l0.6 0.8M34 34l-0.4 -0.3M134 0l0.0 -0.0M111 50l0.1 0.2M54 81l0.4 0.1M96 78l-0.7 -1.2M86 29l-0.3 -0.1M6 53l-0.8 -0.1M77 134l0.4 0.9M33 50l0.7 -0.7M133 133l0.6 0.5M115 148l1.0 -0.2M7 148l-0.2 0.3M52 74l0.1 -0.4M51 73l1.3 -0.3M106 62l-0.2 -0.1M55 72l-0.6 -0.5M7 130l0.1 0.0M104 13l-0.6 0.1M15 79l0.7 0.8M71 27l-0.2 -0.3M143 112l0.1 -0.8M100 37l-0.6 0.7M17 115l0.0 0.0M142 26l-0.3 -0.6M134 94l-0.4 0.5M148 27l-0.1 -0.1M141 61l-0.1 -0.2M111 81l0.3 -0.2M94 75l-0.6 -0.6M79 23l0.2 0.1M7 83l1.2 -0.6M19 50l0.7 -1.0M115 63l0.4 -0.2M112 146l0.1 0.2M113 87l-0.1 0.2M3 137l-0.8 0.7M66 28l-0.1 -0.0M27 80l0.2 -0.3M135 90l0.1 -0.1M9 146l0.4 0.0M144 101l-0.8 -1.0" stroke="#7c200c" stroke-width="2.688" stroke-linecap="round" fill="none" opacity="0.95" filter="url(#bl1)"/><path d="M13 88l-0.6 -0.8M18 15l0.3 -0.1M9 62l1.1 0.5M126 141l-0.3 0.5M153 56l0.1 -0.2M146 141l0.6 -0.4M52 83l1.2 0.6M88 80l-0.1 -0.0M113 1l0.6 -0.9M70 63l-0.1 -0.9M75 82l0.0 -0.0M154 94l0.9 -0.1M23 124l-0.0 0.9M116 59l-0.5 0.8M143 27l-0.2 -0.7M93 48l0.4 0.3M119 79l-0.3 1.0M105 66l1.0 -0.5M104 64l-0.2 -0.0M81 80l-0.1 -0.4M118 90l0.2 -0.0M17 123l0.0 -0.0M150 94l0.1 -0.5M115 108l-0.5 -0.3M119 84l-0.2 0.6M125 94l0.2 -0.5M134 12l-0.7 0.8M125 124l0.2 0.4M149 136l-0.7 -0.1M139 68l0.5 0.9M86 37l-0.1 0.0M8 137l-0.0 0.1M67 131l-0.1 0.1M92 126l-0.0 0.8M18 9l-0.2 -0.4M52 85l-0.7 0.2M103 28l-1.1 -0.7M138 85l0.2 1.1M151 128l-1.2 -0.4M100 44l-0.0 -0.0M13 26l1.0 0.4M143 6l-0.2 0.8M33 107l0.6 0.5M58 109l-0.5 0.3M42 114l1.3 0.0M15 29l0.6 -0.9M39 21l-0.2 -0.2M80 120l0.4 1.1M7 99l-0.3 0.5M153 92l0.4 -0.3M141 33l0.3 -0.0M5 120l0.2 -0.3M146 38l0.4 0.5M150 144l0.1 -0.1M114 4l-1.0 -0.7M138 92l0.7 0.1M47 92l-0.2 0.6M22 52l0.3 -0.5M110 93l-0.1 0.3M126 104l0.1 -0.2M43 35l-0.3 -1.4M117 35l-0.5 -1.2M59 87l0.6 0.6M106 65l-0.1 -0.1M35 8l-0.4 0.2M120 9l0.4 0.4M129 125l1.1 0.7M43 67l0.4 0.7M71 129l-0.0 -0.0M27 10l1.2 -0.5M145 8l-0.6 -0.4M36 113l0.5 -0.7M22 132l0.2 1.3M74 87l0.2 0.7M76 90l-1.0 -0.3M2 120l-0.6 0.7M137 9l0.3 0.9M80 81l0.3 0.4M143 43l-1.0 -0.1M25 43l1.1 -0.7M127 126l-0.1 0.0M80 80l-0.7 -0.5M60 81l-0.0 -0.1M1 59l0.1 -0.2M72 113l0.7 -1.2M103 27l-0.6 -0.2M5 141l-0.1 -0.2M123 128l-0.6 -1.0M64 135l0.9 -0.4M125 80l-0.3 -1.3M111 74l-0.3 0.3M50 10l0.1 -0.0M150 119l-0.6 0.9M10 83l1.0 -0.4M68 77l0.4 1.0M152 126l0.1 0.7M120 2l-1.0 -0.9M5 107l0.1 0.5M92 32l-0.1 0.4M45 144l0.3 0.5M57 85l-0.0 0.4M119 86l0.1 -0.1M133 137l-0.1 0.0M20 62l1.1 0.4M10 117l0.3 -1.3M54 143l0.8 0.7M151 26l-0.3 1.1M131 130l-0.6 -0.2M107 13l-0.3 -0.2M80 71l-1.2 -0.3M128 145l-0.6 -0.8M145 7l0.2 -0.0M129 1l0.2 -1.3M52 80l-0.5 -0.1M150 63l-0.1 -0.1M134 10l0.0 -1.0M0 83l0.7 0.1M122 135l-1.0 0.0M95 17l-0.1 0.1M6 131l0.4 0.1M25 94l0.2 0.1M124 76l-0.9 -0.8M50 74l0.3 0.7M53 107l-0.9 0.1M13 117l0.5 -0.1M109 61l-0.6 -0.4M111 49l0.4 0.5M76 129l1.0 -0.2M58 104l0.1 0.4M71 125l0.2 0.5M141 25l-0.2 0.0M49 91l-1.3 0.6M5 132l-0.7 0.6M28 112l0.5 -0.1M133 9l-0.3 0.5M144 100l0.1 0.1M18 12l0.6 0.7M15 2l0.2 -1.1M117 121l0.2 0.3M13 144l0.9 -0.5M154 10l-0.8 0.7M105 6l-0.0 0.1M20 8l1.0 -0.7M13 128l-0.6 0.0M32 38l0.7 -0.4M49 75l0.0 -0.0M90 81l-0.2 -0.3M40 109l-0.3 -1.3M54 114l0.9 0.1M129 131l0.3 -0.6M142 69l0.5 0.5M24 12l-0.3 -0.7M46 26l-0.4 -0.2M32 130l-0.2 0.3M47 83l-0.0 -0.0M61 37l-0.8 -0.5M141 20l-0.6 0.2M7 120l0.1 -0.7M55 85l0.9 0.4M131 91l1.4 -0.2M78 79l0.0 -0.0M64 18l-0.2 -0.1M113 43l0.1 -0.2M56 80l-1.3 -0.0M130 91l0.4 1.0M110 56l0.6 -0.1M14 12l-0.1 0.0M110 47l0.2 -0.1M147 111l-0.0 -1.0M13 20l-0.2 1.4M87 77l0.8 -0.4M112 144l-0.6 0.3M152 15l-0.9 0.3M8 128l0.1 -0.0M136 91l-0.1 0.7M139 81l-0.7 -0.7M65 88l1.0 -0.6M118 70l-0.4 0.4M34 111l-1.2 -0.5M54 140l0.0 0.2M148 90l-0.4 0.9M2 128l-0.4 -0.5M50 123l-0.9 0.0M42 101l0.0 -0.0M67 83l-0.0 -0.0M75 91l0.1 -0.7M143 6l0.8 -0.5M39 120l0.1 -0.7M64 131l0.0 -0.4M59 9l0.4 0.7M91 58l-0.8 0.0M144 43l0.3 -0.7M117 21l-0.4 -0.9M95 55l-1.0 0.5M13 18l-0.4 -0.8M112 65l0.7 -0.6M67 127l-0.3 0.1M50 113l0.8 -1.1M121 7l-0.7 0.4M34 70l-0.9 -0.5M141 14l-1.0 -0.2M43 118l0.1 -0.4M127 140l-0.3 -1.1M119 35l-1.1 -0.8M110 62l0.3 -0.2M104 9l-1.1 0.6M15 6l0.2 -0.2M147 7l0.0 0.2M119 32l0.1 -0.0M87 4l0.4 -1.0M135 139l-0.1 0.0M76 140l-1.3 0.5M37 2l0.4 0.4M16 87l0.0 -0.3M70 140l-0.4 0.6M65 68l-0.9 0.3M121 87l0.0 -0.0M76 134l-0.2 -0.5M3 88l0.7 0.6M11 134l-0.2 -1.0" stroke="#b83812" stroke-width="2.4640000000000004" stroke-linecap="round" fill="none" filter="url(#bl1)"/><path d="M116 66l0.1 0.1M48 80l-0.2 -0.1M140 10l0.4 0.5M116 137l-0.3 0.1M77 23l-0.9 0.7M120 79l0.2 0.2M68 130l0.3 0.1M108 62l1.1 0.8M70 26l-0.5 1.3M24 7l0.9 0.9M70 137l-1.0 -0.0M130 86l-0.2 -0.3M84 113l0.1 0.9M43 107l0.0 0.0M0 135l0.1 -0.9M121 116l-0.0 0.7M96 74l0.3 -0.2M155 121l0.4 0.4M156 94l0.3 0.4M67 60l1.0 0.2M132 63l0.2 -0.5M17 23l-0.3 0.3M47 116l1.2 -0.4M58 18l-0.1 -0.2M149 55l0.5 0.9M148 90l0.4 0.9M15 124l-0.0 0.0M4 89l0.4 1.2M58 116l-0.4 0.8M17 35l0.0 -0.6M117 141l-1.2 0.0M147 24l-0.1 -0.7M112 44l-0.6 -0.2M74 136l-0.8 0.4M70 115l0.0 1.2M121 92l-0.1 0.3M39 38l0.0 -0.0M19 29l-0.6 0.4M152 117l-1.1 0.4M95 147l-0.3 -0.6M70 31l1.4 0.0M60 66l-0.3 0.4M46 137l0.1 0.3M28 34l0.1 0.1M112 41l-0.2 -0.4M99 64l-0.9 -0.1M137 20l1.0 0.5M99 7l0.4 1.1M145 13l0.5 -0.4M115 121l-0.3 0.6M125 66l1.1 -0.8M49 72l-0.1 -0.5M36 37l-0.8 0.6M77 79l-0.5 1.0M145 96l-0.4 0.7M55 27l-0.7 -0.1M136 93l0.7 -1.0M125 123l0.2 -0.9M146 65l-0.4 0.3M140 65l-1.2 0.3M69 140l-0.0 -0.1M86 29l0.0 0.1M118 141l-0.4 1.1M124 2l-0.0 -0.0M116 24l0.0 -0.9M129 141l-0.0 0.0M150 95l0.1 0.0M122 80l0.4 -0.4M45 142l1.1 0.4M134 144l-0.5 0.0M64 70l-0.2 0.2M55 148l1.1 0.2M137 47l0.4 -0.3M37 107l-1.1 -0.6M101 49l1.4 0.2M125 134l0.4 0.3M57 49l0.3 0.1M44 28l0.2 0.3M14 86l-0.9 0.3M91 33l-1.0 0.0M114 79l0.3 -0.1M83 57l-0.5 0.6M136 51l0.0 0.1M114 145l0.3 -0.6M41 72l-0.6 0.7M106 9l-0.1 0.5M145 7l0.4 0.5M101 72l-0.3 0.7M66 123l0.8 -0.8M137 69l-0.4 -0.7M152 4l0.2 -0.2M104 138l0.2 -0.1M123 9l0.5 -0.5M46 79l-0.4 -1.3M147 107l0.4 0.1M48 76l0.3 0.3M79 102l-0.0 0.9M38 77l0.2 -0.3M119 34l-0.1 0.1M8 133l0.2 0.1M91 79l1.1 0.5M70 140l-0.3 0.9M39 119l0.0 -0.3M110 4l-0.8 0.2M47 29l-0.8 0.2M71 85l1.1 0.6M77 80l1.4 -0.1M55 11l0.2 -0.8M65 74l0.0 0.1M133 61l-0.3 0.1M128 132l-1.0 -0.9M2 131l-0.1 0.8M132 66l0.2 1.3M64 75l-0.5 -0.7M128 85l-0.3 -0.0" stroke="#f0602c" stroke-width="2.24" stroke-linecap="round" fill="none" filter="url(#bl1)"/><path d="M55 10l-1.3 -0.4M147 91l0.6 -0.9M140 25l-1.3 -0.1M68 76l-3.3 1.9M54 71l1.4 1.1M122 53l0.2 1.3M91 77l1.3 -0.0M153 135l-1.3 -1.0M85 80l-0.2 -1.7M142 26l0.8 1.5M40 47l-2.6 1.7M8 113l-0.7 -0.3M76 88l-0.5 -1.0M134 92l-0.9 -0.1M111 61l-2.6 1.6M50 85l-2.9 -0.3M85 82l0.1 -2.3M129 5l-0.9 -1.2M139 9l-2.2 -2.0M138 0l3.0 2.1M49 83l-0.4 0.4M120 5l0.8 1.1M137 10l1.4 0.7M114 1l-2.2 1.3M48 48l-3.6 0.8M91 10l-0.7 -1.1M153 2l1.9 -1.9M65 60l2.8 -0.6M150 89l0.8 -0.2M117 90l-0.7 3.7M4 140l3.6 0.5M58 80l0.4 -0.3M91 112l2.1 2.9M63 78l3.3 -0.8M86 33l-0.5 -2.9M37 110l-0.0 0.0M45 84l-2.4 -2.5M148 104l1.9 -0.6M51 92l0.7 0.0M36 37l-0.9 0.3M53 116l0.7 0.1M114 135l-0.5 0.0M90 6l0.5 0.4M105 83l3.0 0.6M37 50l0.5 -0.6" stroke="#f0602c" stroke-width="3.248" stroke-linecap="round" fill="none" opacity="0.95" filter="url(#bl1)"/></svg>
<svg x="436.0" y="691.6" width="157.0" height="148.2" viewBox="0 0 157.0 148.2" overflow="hidden"><rect width="157.0" height="148.2" fill="#060000"/><path d="M116 98h0M156 14h0M136 97h0M101 32h0M53 50h0M86 100h0M6 17h0M155 52h0M8 91h0M30 122h0M113 69h0M26 126h0M115 123h0M32 121h0M44 27h0M1 0h0M82 127h0M38 105h0M150 101h0M154 118h0M69 21h0M51 58h0M109 71h0M86 115h0M12 91h0M100 43h0M55 27h0M65 44h0M6 11h0M139 25h0M104 73h0M150 144h0M89 145h0M149 70h0M120 4h0M109 93h0M14 11h0M39 33h0M113 128h0M47 53h0M117 34h0M101 54h0M17 19h0M140 73h0M83 8h0M90 119h0M120 89h0M55 76h0M80 27h0M139 118h0M11 144h0M22 108h0M95 143h0M73 5h0M78 73h0M126 144h0M155 72h0M64 129h0M136 23h0M67 38h0M16 91h0M24 125h0M26 112h0M49 33h0M141 95h0M157 115h0M128 24h0M27 141h0M69 72h0M13 17h0M111 72h0M4 4h0M118 120h0M49 59h0M80 80h0M78 11h0M65 132h0M32 50h0M9 93h0M88 40h0M45 58h0M8 77h0M52 143h0M36 67h0M80 83h0M113 27h0M76 80h0M52 52h0M21 133h0M135 38h0M55 18h0M35 85h0M2 103h0M127 101h0M36 48h0M120 27h0M119 59h0M130 54h0M127 39h0M134 112h0M53 54h0M42 50h0M91 84h0M91 99h0M11 9h0M57 43h0M102 91h0M113 115h0M81 13h0M96 6h0M74 130h0M80 125h0M43 147h0M42 47h0M81 129h0M17 114h0M91 117h0M141 93h0M130 69h0M157 144h0M124 89h0M71 141h0M139 35h0M79 8h0M102 67h0M64 135h0M9 61h0M35 71h0M0 134h0M99 71h0M151 97h0M79 1h0M63 55h0M74 84h0M71 68h0M65 13h0M53 49h0M31 79h0M9 96h0M96 112h0M116 113h0M20 87h0M149 122h0M93 98h0M0 46h0M134 64h0M119 56h0M58 141h0M37 92h0M90 125h0M8 95h0M87 13h0M9 95h0M78 127h0M147 110h0M116 85h0M142 40h0M69 12h0M70 118h0M100 20h0M154 110h0M18 38h0M103 109h0M27 74h0M52 44h0M152 148h0M57 142h0M33 118h0M118 24h0M74 1h0M29 52h0M150 103h0M156 58h0M24 125h0M50 65h0M147 121h0M73 121h0M128 34h0M79 6h0M88 96h0M92 88h0M77 121h0M115 40h0M51 8h0M112 101h0M85 93h0M48 10h0M12 146h0M96 111h0M116 147h0M6 17h0M74 47h0M66 18h0M99 99h0M74 4h0M95 70h0M127 99h0M61 50h0M62 90h0M115 92h0M123 96h0M37 93h0M109 72h0M118 51h0M155 121h0M83 147h0M114 31h0M88 20h0M49 146h0M58 131h0" stroke="#561405" stroke-width="6" stroke-linecap="round" fill="none" opacity="0.6" filter="url(#bl2)"/><path d="M12 32l-0.7 1.2M32 12l1.2 -0.3M154 17l0.3 -1.2M3 7l0.9 0.0M55 24l0.0 1.0M121 87l-0.7 0.3M155 63l-0.8 -0.2M75 120l0.6 -1.2M110 13l-0.6 0.9M60 29l0.4 -0.4M135 92l0.5 0.5M72 12l0.1 -0.7M26 54l0.4 0.9M122 87l-0.6 1.1M5 143l0.4 0.7M71 134l-1.0 0.9M130 38l0.8 0.9M156 75l-0.5 0.3M97 54l0.2 0.7M80 111l1.3 -0.6M82 19l0.8 -0.3M32 29l0.1 0.7M74 79l-0.2 -0.3M156 102l0.1 -0.0M12 146l0.0 0.3M3 132l0.0 0.1M12 91l0.0 0.5M98 139l0.7 -0.3M120 12l-0.3 -0.3M157 92l0.4 0.7M134 51l-0.0 -0.1M87 99l-0.2 -0.2M65 15l-0.2 -0.5M35 112l0.1 0.2M110 66l0.2 -0.7M5 41l1.1 0.6M13 6l-0.1 0.4M133 9l0.4 0.0M63 143l-1.2 -0.5M7 7l-0.2 0.7M1 99l0.8 0.5M14 24l-0.2 0.5M37 94l-0.1 1.1M103 91l0.2 -0.0M151 116l-0.1 0.0M23 115l0.0 -1.3M133 12l0.7 0.7M99 107l-0.2 0.6M63 67l-0.5 -0.2M83 10l-0.3 -0.4M126 56l-0.5 0.0M96 36l-0.2 0.1M121 75l-0.1 0.1M141 110l-0.4 -0.4M143 21l-1.1 0.6M88 29l0.4 0.6M2 134l-0.7 -0.6M67 48l0.0 -0.5M52 9l0.8 -0.4M74 124l0.8 0.4M126 77l-1.3 -0.1M143 96l-0.1 -0.9M111 49l-0.4 -0.9M133 16l-0.7 0.2M65 32l-0.0 -0.0M47 21l-0.6 -0.0M44 92l-0.7 0.3M61 91l-0.3 -0.4M49 77l-0.3 -0.1M111 33l0.9 -0.1M150 64l-0.3 -1.0M148 118l0.2 0.0M135 108l-0.4 0.4M144 74l-0.6 0.4M126 89l-0.7 -0.8M134 98l-0.2 -0.5M138 11l0.7 -0.9M65 90l0.0 -0.0M67 16l-0.2 -0.1M95 20l0.9 -1.0M41 79l-0.2 -0.4M146 140l0.5 -0.5M107 20l-0.1 -0.3M99 78l0.9 0.7M17 127l0.3 -0.4M64 91l0.4 0.2M102 140l0.3 -0.2M101 38l-0.0 -0.4M29 50l0.4 -0.2M55 67l0.7 -0.2M12 118l0.6 0.0M92 30l-0.2 0.1M97 91l0.7 0.4M135 90l-0.2 -1.0M74 3l-0.1 0.2M34 58l-1.0 0.3M0 136l0.3 1.2M122 15l0.5 -0.1M141 66l0.5 0.6M107 74l0.7 1.0M92 99l-0.5 -0.3M156 68l0.7 -0.9M119 120l-0.0 -0.1M132 33l-0.3 0.3M151 95l0.2 -0.3M156 17l0.5 0.4M74 18l-0.3 0.9M39 70l-0.1 0.1M137 90l-0.6 -1.1M52 82l-0.3 -0.7M21 119l0.3 0.1M0 137l-0.7 -1.1M128 96l-1.3 0.2M1 3l0.3 0.2M79 37l-0.2 0.9M111 34l-0.6 0.7M102 8l0.9 0.3M111 39l-0.0 -0.3M99 117l0.3 0.5M66 87l-0.7 0.1M130 95l0.2 -0.1M14 146l-0.5 -0.5M55 40l-0.3 -0.3M72 48l0.1 -1.1M91 29l0.5 0.1M99 71l0.8 0.0M2 39l-0.0 -0.6M83 30l1.1 -0.2M17 146l-0.1 -0.1M152 15l-0.3 1.1M103 70l-0.3 0.0M101 69l1.0 0.0M36 8l-0.0 0.1M78 41l-1.0 -0.0M30 49l-0.0 -0.0M33 1l0.5 -0.3M23 123l-0.3 -0.2M44 98l-0.1 0.1M139 49l0.0 -0.2M118 7l-0.9 -0.5M127 119l0.0 -0.0M100 3l-0.1 -0.4M141 91l0.8 0.1M48 93l-0.5 0.3M107 55l0.1 0.2M98 63l0.5 0.5M22 137l1.2 0.2M126 20l-0.7 -1.1M98 93l-0.2 -1.1M99 143l0.8 -0.8M13 49l-0.1 -0.6M147 98l0.6 -1.0M132 25l-0.6 -1.2M57 20l0.1 -0.3M88 115l0.3 -0.0M18 92l0.4 0.9M6 52l1.0 -0.1M84 29l0.2 0.4M54 127l-0.7 0.8M16 111l0.8 0.7M8 45l0.0 0.0M107 122l1.1 -0.5M49 43l0.3 -1.1M41 143l-1.2 -0.2M134 50l-0.5 -0.4M39 93l0.1 -1.1M130 92l-0.3 -0.4M62 145l-0.2 -0.0M2 118l-0.8 0.5M131 48l-0.0 -0.7M23 58l-1.2 0.1M98 73l-0.7 -0.2M156 117l0.8 0.8M119 119l0.9 -1.1M124 39l0.0 -0.1M11 11l-0.2 0.2M122 39l-0.2 -0.2M5 131l-1.3 -0.4M89 132l-0.1 -0.5M144 123l0.2 -0.5M91 105l0.0 -0.3M33 137l0.5 -0.4M59 96l0.4 0.1M5 99l-0.3 0.1M57 68l-0.2 -0.2M136 81l-1.1 -0.0M116 34l-0.3 -0.1M45 51l-0.3 -0.8M152 78l-0.4 -0.4M77 62l-1.1 0.6M129 38l-0.4 0.4M19 46l1.1 -0.1M42 12l0.8 0.8M118 2l-1.0 0.1M85 126l-0.5 -0.1M137 69l-0.2 0.7M136 72l0.3 -0.1M86 94l0.5 1.0M144 95l-0.5 0.1M43 54l-0.5 -0.3M4 138l0.7 0.3M19 127l-0.9 0.4M26 84l0.0 0.2M89 88l-0.9 -1.1M93 64l-0.4 -0.8M24 108l0.1 -0.1M19 45l1.0 -0.8M14 111l0.0 0.1M30 123l0.8 -1.0M110 39l-0.4 -0.2M122 51l1.1 -0.5M95 101l0.2 0.2M128 108l0.1 -0.4M84 20l0.6 -0.2M43 44l0.1 -0.1M28 63l0.6 0.1M150 60l0.7 -0.7M43 15l1.2 0.4M66 20l0.2 -0.1M49 142l-0.6 -1.2M51 58l0.1 1.0M35 30l-0.0 0.0M136 118l0.3 0.9M150 43l0.4 1.0M20 104l-0.1 0.1M67 135l-0.5 -0.7M68 22l-0.6 1.3M78 35l-0.1 -0.4M86 91l-0.8 0.4M46 29l0.2 1.4M145 34l-0.4 -0.3M48 18l0.3 -0.1M134 44l0.2 -0.9M70 38l-0.4 0.2M36 10l0.5 -1.0M123 48l-1.0 -0.5M49 140l0.1 -1.0M109 76l0.0 0.1M26 51l-0.1 -1.2M65 100l-0.1 -0.5M57 131l0.2 0.2M4 130l-0.0 -0.0M46 144l0.2 -0.1M128 124l-0.0 -0.8M116 102l0.1 0.2M10 48l-0.1 -0.1M40 41l-0.3 -0.5M117 101l-1.0 0.9M98 82l-0.7 -0.9M21 107l0.3 -0.2" stroke="#7c200c" stroke-width="2.688" stroke-linecap="round" fill="none" opacity="0.95" filter="url(#bl1)"/><path d="M78 8l-0.1 -0.1M38 40l-0.9 -0.8M29 16l0.4 -0.6M19 22l-0.4 -0.4M50 9l-0.1 -0.0M151 71l-0.3 -0.8M113 34l-0.1 0.5M144 121l-0.1 -0.6M124 34l1.3 -0.3M131 2l0.1 -0.1M135 92l0.4 0.2M20 49l-0.6 0.8M13 30l0.4 -0.7M100 35l-0.5 -0.6M61 130l0.7 0.2M25 32l0.1 0.6M71 122l0.9 0.1M55 18l0.1 -0.1M124 133l-0.0 -0.0M38 9l-0.1 0.2M151 106l0.7 -0.8M103 61l0.2 -0.2M98 43l-0.2 -1.0M54 139l-1.3 -0.1M82 0l-0.3 -0.3M77 12l-0.1 -0.7M102 46l0.2 0.8M137 86l0.6 0.2M144 132l-0.0 -0.0M138 124l-0.1 -0.1M50 142l-0.3 -0.4M139 71l1.4 0.3M4 133l0.2 0.1M53 16l-0.3 -0.0M121 56l-0.7 -0.1M119 109l-0.7 -0.4M59 135l-0.1 0.3M11 10l-0.2 -0.6M37 97l-1.3 -0.2M134 111l0.4 0.0M49 6l-0.1 -0.0M43 32l0.0 -0.6M112 129l-0.1 0.2M90 87l0.1 -0.0M84 123l0.4 -0.9M150 118l0.8 -0.6M149 91l-0.4 0.6M101 60l0.1 -0.0M34 81l0.6 -0.8M20 104l0.4 1.3M4 0l-0.0 0.0M80 94l-0.1 0.7M48 49l0.8 0.1M147 111l-0.4 0.2M75 93l0.0 -0.9M145 32l1.2 -0.3M62 61l0.8 -1.0M129 24l0.4 -0.6M31 10l0.6 0.3M137 116l-1.0 -0.9M81 101l-0.5 -0.7M132 97l0.8 0.5M77 78l0.2 0.0M6 111l1.0 0.3M14 138l0.8 -0.3M137 2l0.9 0.5M136 72l0.5 0.9M24 130l-0.6 -1.2M113 34l0.2 0.3M26 59l-0.0 0.1M151 49l0.8 -0.3M79 127l0.5 0.4M39 51l1.1 0.8M108 55l-0.0 0.0M101 92l-0.0 -0.5M117 20l-0.6 -0.9M118 64l0.7 0.3M137 63l0.3 -0.1M70 47l0.0 0.9M14 91l1.1 0.4M155 4l0.4 -1.3M26 33l0.4 -0.7M51 147l-0.7 0.2M131 53l-0.9 -1.0M100 74l0.4 0.6M1 16l-0.3 0.1M144 42l0.6 0.9M57 145l-0.8 -0.5M37 48l-0.0 0.7M20 101l0.1 0.2M151 140l0.6 0.7M37 79l0.5 -0.7M155 29l0.0 -0.1M43 57l-0.2 -0.0M124 123l-0.3 -0.1M121 52l-0.0 1.3M135 93l-0.3 -0.1M43 31l-0.4 0.0M121 14l0.2 -0.5M52 146l0.5 -0.7M133 35l-0.5 -0.7M52 56l-0.1 -0.0M18 119l0.2 -0.8M140 145l0.1 0.7M4 133l0.9 -0.3M151 98l-0.7 -0.2M34 141l0.6 0.3M113 32l-0.8 0.4M81 126l-0.1 0.2M141 67l0.2 -0.3M37 94l0.1 0.6M94 26l0.9 -0.3M92 61l0.1 0.1M90 85l-0.1 -0.0M34 8l0.0 0.2M56 59l0.8 -0.9M124 66l0.6 -0.7M135 44l0.4 0.1M86 104l0.0 -0.1M83 107l-1.1 0.0M50 34l-0.0 0.5M51 48l-0.6 -0.7M54 139l0.6 0.9M144 112l0.2 0.1M46 43l-0.1 0.3M13 97l-0.5 0.1M109 54l-0.2 -1.1M130 76l0.2 -1.2M3 100l-0.0 0.9M102 53l0.3 -1.1M92 58l-1.1 0.6M62 98l-0.8 1.0M128 27l-0.0 -0.1M93 108l0.9 -0.5M52 37l-1.3 -0.4M75 13l0.8 -0.7M56 66l0.1 -1.0M72 40l0.6 0.5M62 93l0.7 0.0M53 30l0.5 0.9M59 139l0.2 -0.1M18 115l-0.4 -0.2M86 113l0.7 -0.1M144 134l0.4 0.8M28 70l-0.7 0.2M74 6l-0.2 0.1M81 23l0.6 0.6M12 144l0.4 0.4M50 50l-1.0 -0.4M37 80l0.3 0.4M14 10l0.3 0.2M10 148l1.0 -0.2M34 51l1.3 0.6M100 126l-0.4 0.7M38 33l0.1 -0.3M101 114l-0.1 0.4M143 56l-1.1 -0.8M145 127l0.8 1.1M10 50l-0.6 -0.3M111 51l0.9 0.4M38 122l1.0 0.6M148 114l-0.2 1.1M38 90l0.0 -0.5M99 72l-0.2 0.8M101 7l-0.6 0.1M80 4l0.5 -0.0M147 47l-0.6 0.8M40 96l-0.3 0.1M118 109l-0.1 0.1M148 7l0.6 1.0M45 52l-0.6 0.1M126 84l-0.2 0.1M31 83l0.0 0.0M151 92l-0.4 -0.2M18 47l-0.2 -0.4M83 92l0.2 -1.3M36 66l-0.6 0.6M105 51l0.4 0.7M46 54l-0.1 0.6M38 53l0.5 -1.1M5 92l-0.8 0.5M47 51l-0.5 -0.2M69 123l0.1 0.0M122 67l0.4 0.5M133 16l-0.1 0.3M108 62l-0.1 0.5M139 91l0.1 -1.1M63 102l0.2 -0.8M126 37l1.1 0.3M44 91l0.0 -0.2M61 14l0.0 0.6M52 60l0.3 1.3M125 42l-0.5 -0.6M78 110l0.0 0.6M1 13l-1.0 -0.3M33 97l-0.3 0.5M115 148l-0.3 0.6M50 141l-0.1 0.3M106 86l-1.2 -0.5M129 25l1.3 -0.4M131 88l-0.8 1.1M76 24l0.2 0.3M10 121l0.2 0.8M141 89l-0.0 0.4M5 140l0.7 0.7M13 40l-0.4 -0.5M156 3l-0.9 -0.8M57 62l0.3 -0.1M138 12l0.5 -0.7M21 22l-0.0 -0.2M79 7l0.5 -0.1M93 29l0.6 0.4M100 22l-0.5 0.9M109 132l-0.8 -0.9M74 98l0.8 -0.8M96 91l-0.5 0.5M56 143l-1.0 0.0M13 116l-0.6 -0.5M152 116l-0.4 0.6M105 110l-0.8 0.7" stroke="#b83812" stroke-width="2.4640000000000004" stroke-linecap="round" fill="none" filter="url(#bl1)"/><path d="M73 19l-0.4 -0.5M37 44l-0.0 -0.1M62 140l-0.2 -0.5M76 127l-0.2 -0.1M27 75l-0.2 0.3M156 111l-0.5 0.9M96 45l-1.3 0.2M76 73l-0.3 -0.2M117 17l-0.6 -0.5M147 103l0.5 0.6M52 56l0.5 0.0M81 31l-0.9 -0.2M110 82l0.8 -0.2M43 50l0.7 0.1M86 91l-0.0 1.0M139 27l0.1 -0.1M42 58l0.1 -0.4M68 147l0.3 0.6M152 73l-0.4 0.2M68 41l-0.1 0.6M143 63l-0.1 -0.2M20 116l-0.2 0.2M64 133l-0.0 -0.3M129 59l-0.0 -0.0M64 136l0.4 -0.5M71 125l1.0 -0.4M94 68l0.0 -0.0M103 11l-0.0 -0.7M127 60l0.6 -0.5M94 105l-0.7 1.0M50 146l0.3 -0.0M48 47l0.4 0.5M68 117l-0.1 -0.2M77 95l-0.7 -0.4M18 105l0.1 -0.2M110 46l0.5 0.6M120 57l0.0 -0.8M58 146l-0.0 -0.4M80 19l0.9 0.2M142 97l-0.0 -0.0M149 111l0.8 0.5M72 14l-0.1 -0.3M27 135l-0.0 0.6M130 66l0.4 0.1M42 55l0.0 0.1M34 27l-1.3 -0.2M148 39l0.9 0.5M103 60l-0.3 -0.3M100 34l-0.7 -0.8M140 36l-0.0 0.6M108 89l-0.4 -0.4M115 69l0.2 0.5M12 11l-0.2 -0.8M9 131l-0.2 0.4M16 117l0.5 0.8M104 60l0.1 -0.3M131 122l-0.1 -0.1M104 53l0.4 0.7M140 96l-0.4 0.4M48 54l0.7 0.2M94 17l-0.3 0.1M130 40l-0.2 -0.2M18 38l-0.1 0.1M74 88l0.5 -0.6M81 15l0.4 -0.3M108 33l0.2 -0.9M45 48l1.2 0.4M1 15l-0.5 -0.0M53 148l-0.3 0.3M58 69l0.1 -0.6M64 131l-0.5 0.3M129 137l-0.3 -0.8M18 49l0.1 0.8M45 59l0.5 -0.1M55 55l0.7 -0.9M61 146l-1.3 0.4M86 6l-0.0 0.3M6 55l-0.1 0.1M49 57l0.4 0.2M125 44l-0.8 0.1M10 12l0.6 -0.6M138 114l-0.0 -0.0M98 42l0.7 0.0M92 88l-0.1 1.4M15 136l0.1 -0.2M123 67l1.1 0.3M19 99l1.0 -0.2M141 64l1.1 0.5M82 23l-0.5 -1.1M82 107l-0.5 -0.8M30 40l0.5 -0.4M94 97l0.1 0.2M38 94l-0.8 0.8M33 117l0.3 -0.5M140 24l0.0 0.2M156 53l-0.3 1.2M111 5l0.8 0.3M149 145l0.7 -0.2M45 21l-0.0 -0.0M43 54l-0.9 0.3M102 94l0.2 0.3M4 102l-1.2 0.1M90 104l-0.8 -0.4M40 7l-0.4 -0.1M89 84l1.0 -0.3M99 72l1.3 0.5M88 59l0.0 -0.1M140 96l0.1 -1.4M83 11l-0.6 0.6M131 22l0.3 0.3M75 7l0.1 0.2M107 81l-0.1 0.3M123 30l-0.8 -0.5M8 87l1.4 -0.1M69 56l1.2 0.1" stroke="#f0602c" stroke-width="2.24" stroke-linecap="round" fill="none" filter="url(#bl1)"/><path d="M57 142l0.4 1.5M113 56l0.5 1.5M136 87l-2.3 -1.0M19 115l-0.0 1.4M101 33l1.4 2.9M38 74l-0.9 3.3M96 72l0.0 0.0M58 14l-1.5 0.8M81 7l0.0 -3.4M96 98l-1.2 -0.1M154 78l-0.4 -1.8M119 110l-0.1 1.2M51 59l2.8 0.0M98 88l0.7 0.2M48 61l-1.8 -1.7M50 31l-1.8 -1.7M58 144l1.2 -3.5M56 84l1.5 -0.3M31 64l-0.3 0.4M153 4l-0.6 0.3M101 75l2.7 -1.2M154 2l0.2 2.7M116 2l-0.1 -0.4M18 45l1.0 -2.7M62 138l-3.6 0.6M53 54l0.1 0.1M68 10l-0.4 -2.6M8 128l2.4 0.1M49 49l-1.2 -0.8M51 142l2.2 2.3M17 1l1.7 -1.4M96 91l0.4 2.1M76 7l-1.2 -1.6M132 32l0.3 -0.8M50 141l2.1 -1.9M55 147l0.2 0.3M41 94l0.2 -1.3M148 79l2.9 -2.1M80 12l-0.6 2.8M46 108l0.4 1.9" stroke="#f0602c" stroke-width="3.248" stroke-linecap="round" fill="none" opacity="0.95" filter="url(#bl1)"/></svg>
<svg x="108.5" y="846.3" width="157.1" height="147.7" viewBox="0 0 157.1 147.7" overflow="hidden"><rect width="157.1" height="147.7" fill="#030403"/></svg>
<svg x="271.4" y="846.3" width="156.7" height="147.7" viewBox="0 0 156.7 147.7" overflow="hidden"><rect width="156.7" height="147.7" fill="#010301"/><path d="M132 65h0M23 107h0M103 92h0M140 121h0M114 116h0M29 70h0M71 97h0M27 62h0M99 68h0M152 114h0M68 40h0M25 122h0M125 141h0M120 22h0M62 79h0M28 145h0M149 137h0M37 66h0M100 119h0M96 40h0M120 0h0M6 132h0M104 143h0M136 43h0M99 122h0M126 127h0M116 113h0M145 134h0M96 121h0M53 44h0M7 103h0M108 119h0M143 129h0M155 147h0M124 8h0M93 22h0M142 145h0M132 44h0M133 96h0M19 77h0M122 48h0M73 125h0M103 136h0M155 126h0M75 129h0M63 128h0M76 94h0M23 63h0M85 72h0M138 97h0M13 126h0M22 30h0M75 134h0M63 44h0M85 95h0M59 44h0M66 131h0M10 37h0M86 100h0M152 73h0M100 124h0M122 22h0M137 124h0M97 33h0M57 87h0M73 47h0M114 37h0M149 77h0M47 86h0M119 23h0M93 115h0M125 100h0M128 92h0M109 113h0M115 53h0M130 100h0M104 109h0M61 128h0M149 3h0M89 117h0M55 110h0M25 128h0M8 131h0M100 7h0M3 96h0M139 140h0M114 44h0M113 139h0M103 128h0M123 71h0M156 55h0M34 69h0M135 47h0M32 111h0M135 102h0M89 19h0M108 52h0M26 117h0M152 79h0M120 7h0M92 142h0M93 132h0M74 1h0M113 38h0M110 144h0M154 107h0M135 93h0M130 25h0M135 103h0M119 116h0M99 136h0M123 140h0M93 51h0M67 22h0M17 128h0M110 64h0M54 50h0M80 100h0M88 140h0M68 128h0M111 51h0M30 126h0M100 110h0M79 121h0M118 44h0M105 140h0M146 101h0M69 132h0M78 79h0M127 128h0M33 93h0M95 122h0M48 103h0M38 77h0M19 24h0M142 34h0M130 114h0M134 103h0M54 47h0M31 0h0M117 57h0M91 130h0M117 3h0M78 39h0M92 10h0M106 22h0M116 120h0M56 46h0M30 109h0M62 140h0M96 21h0M12 115h0M54 70h0M88 55h0M49 148h0M135 101h0M31 90h0M133 142h0M42 32h0M62 86h0M115 118h0M13 138h0M25 133h0M108 142h0M96 27h0M128 141h0M126 45h0M121 7h0M96 122h0M104 127h0M3 103h0M8 140h0M80 140h0M4 81h0M80 3h0M140 29h0M73 108h0M103 53h0M100 7h0M94 123h0M6 143h0M82 124h0M147 125h0M95 130h0M81 72h0M126 50h0M72 75h0M120 124h0M20 72h0M125 55h0M138 100h0M34 3h0M99 112h0M135 103h0M55 147h0M99 22h0M122 109h0M30 58h0M7 76h0M116 123h0M141 136h0M16 132h0M113 112h0M118 52h0M67 115h0M155 135h0M138 139h0M107 140h0M71 140h0M144 127h0" stroke="#0a4414" stroke-width="6" stroke-linecap="round" fill="none" opacity="0.65" filter="url(#bl2)"/><path d="M109 50l0.4 -0.3M150 50l-0.9 -0.6M90 104l0.1 0.7M80 13l-1.1 -0.6M107 79l0.1 0.0M143 129l-0.5 1.0M100 90l0.1 -0.1M130 45l0.6 -0.3M138 140l1.2 -0.2M53 87l1.1 0.7M127 28l-0.2 0.0M135 37l-0.1 0.0M135 81l-0.0 -0.7M145 125l0.2 0.2M87 106l-1.0 -0.0M85 110l-0.0 0.1M25 142l-0.1 0.1M131 104l-0.6 1.0M155 97l0.2 0.4M147 20l0.0 -0.3M95 106l0.2 0.2M142 125l-0.7 -0.6M66 41l-0.0 -0.1M91 22l-0.0 0.1M135 133l-0.4 -0.2M135 143l0.0 -0.7M84 139l-0.2 -0.1M40 105l-0.1 -0.0M63 44l0.9 0.7M74 126l0.0 0.0M109 73l-0.1 -0.2M95 33l-0.2 0.7M106 60l0.0 -0.0M40 12l-0.0 -0.0M102 115l0.1 -0.5M118 140l0.4 0.3M105 83l-0.1 -0.1M110 113l-0.7 0.7M95 110l0.4 -0.9M128 142l-0.9 0.2M133 121l0.3 0.4M77 117l-0.1 0.2M129 59l0.1 0.0M99 8l0.5 -0.1M25 26l-0.4 0.8M130 11l-0.2 -1.2M77 12l0.1 -0.0M105 40l0.0 0.5M99 73l-0.3 0.7M143 68l0.1 1.2M138 128l-0.5 1.0M109 84l0.8 -0.4M111 120l-0.0 0.1M119 129l1.2 -0.0M89 117l-0.1 0.0M107 110l0.0 -0.4M91 108l-1.2 0.5M57 117l1.0 -0.5M143 33l0.8 0.4M129 134l-0.7 -0.6M48 73l1.2 0.1M64 141l0.0 0.0M62 28l-0.5 -0.8M101 88l-0.0 -0.1M123 36l0.1 0.7M0 127l-0.8 -0.6M104 4l0.8 0.1M124 35l0.1 0.4M122 76l0.4 0.5M79 140l-0.0 0.8M72 142l-0.0 0.2M77 134l-0.2 0.3M13 90l-0.4 1.2M71 89l-0.9 -0.6M120 106l-0.8 -1.0M71 61l-0.6 0.0M24 136l-0.0 0.3M130 14l0.5 -0.3M48 50l-0.7 -1.0M22 94l-0.2 -0.0M122 84l-0.3 -1.0M11 127l0.5 -0.2M65 17l0.6 0.6M130 136l0.0 -0.1M53 49l0.4 -1.0M128 120l0.7 0.3M135 93l0.5 0.4M49 67l0.5 0.5M24 9l-0.1 0.6M124 96l-0.7 -0.7M57 54l-0.2 0.0M35 20l-0.3 0.5M131 131l-0.1 0.2M53 113l0.5 -0.0M121 119l0.3 0.0M37 66l0.1 -0.9M128 118l-0.1 0.0M71 52l-0.6 1.0M156 55l0.1 0.1M124 20l-0.0 0.0M130 103l0.9 -0.6M111 66l0.6 0.9M122 128l1.0 -0.1M154 140l0.0 -0.2M106 141l0.0 0.6M95 115l0.4 1.0M106 140l-0.6 0.5M61 83l-1.0 0.8M141 66l-0.5 1.0M107 125l0.6 -0.6M22 117l1.1 0.5M86 90l0.1 0.1M143 8l0.1 -0.2M140 125l1.1 0.2M100 81l0.4 -0.2M26 139l-0.6 0.7M47 11l-0.1 -0.4M60 91l0.2 0.1M138 97l-0.0 0.0M31 82l-0.1 -0.5M155 100l-0.3 -0.1M114 102l-0.7 0.6M97 124l0.8 -0.7M115 9l-1.1 -0.1M83 94l-0.2 0.8M65 106l-0.3 1.1M138 71l-0.0 0.0M133 69l0.0 -0.2M130 76l0.6 -0.9M105 27l0.1 -0.1M47 107l-0.0 0.1M102 102l0.6 0.1M156 138l-0.0 -0.0M114 33l-0.2 -0.4M147 107l0.5 0.6M50 45l-0.4 0.2M105 116l0.7 -0.2M94 129l-0.5 0.5M75 128l0.2 -0.1M26 117l-0.5 -1.1M85 95l-0.1 -0.1M105 113l0.2 -0.7M76 72l0.4 0.8M43 144l0.7 -0.7M143 16l0.2 -0.1M87 8l1.1 -0.0M15 78l-0.4 0.6M75 7l0.5 -0.8M145 133l-0.3 -0.0M112 59l-1.2 -0.0M62 114l0.2 -0.2M107 98l0.5 0.2M99 109l-0.9 -0.8M56 40l0.6 -0.4M66 72l-0.2 1.0M93 29l-0.1 -0.0M97 119l-0.8 0.2M151 143l-0.7 0.4M84 94l0.2 -1.2M151 64l-0.2 -0.1M78 51l1.0 -0.2M18 139l-0.7 0.1M154 36l0.1 -0.0M36 60l-0.4 -0.5M100 64l0.2 -0.0M118 119l0.2 -0.1M16 129l-0.7 0.9M128 104l-0.2 0.2M96 13l-0.2 0.6M8 53l1.0 0.8M120 81l-0.4 0.0M57 121l-0.1 -0.7M154 100l-0.2 1.3M156 128l-0.2 -0.4M149 48l0.9 -0.1M107 7l0.2 1.1M123 68l-0.3 -0.0M134 65l0.7 0.8M155 62l0.5 0.8M135 13l-0.3 0.0M151 46l-0.0 0.0M117 44l-0.0 0.0M141 141l-0.0 0.0M65 104l0.5 -0.9M99 123l0.9 0.9M133 9l0.1 -0.2M123 106l-0.8 0.1M139 114l0.2 -0.1M126 40l0.1 -0.5M112 85l0.3 0.2M36 75l0.5 1.0M154 141l0.1 -0.1M51 82l1.0 -0.2M133 107l0.2 -1.0M153 13l0.5 -1.1M21 121l-1.2 -0.2M50 40l1.1 -0.3M129 103l-0.3 1.1M131 48l-0.5 -0.1M126 21l0.1 -0.1" stroke="#0a4214" stroke-width="2.64" stroke-linecap="round" fill="none" opacity="0.95" filter="url(#bl1)"/><path d="M6 103l-0.3 0.4M71 74l-0.4 0.1M69 6l-0.5 -0.0M142 144l0.5 0.1M35 68l0.1 0.0M1 103l-0.1 1.3M109 29l-0.7 0.1M42 103l1.0 -0.6M128 90l-0.3 -0.1M142 132l-0.5 -0.1M124 32l0.0 -0.0M119 38l-0.6 0.6M38 114l-0.6 -0.4M3 120l0.0 -0.3M36 113l0.6 -1.0M44 63l0.4 0.1M151 132l-0.3 0.4M149 143l-0.3 -0.1M131 103l-0.7 -0.9M65 84l1.0 -0.5M132 90l0.2 0.9M55 110l0.1 -0.8M125 31l-0.2 -0.3M149 39l0.0 -0.3M126 58l-0.3 -0.1M36 120l-0.1 -0.0M120 7l-0.4 0.9M95 106l-0.1 0.9M131 108l0.2 -0.8M50 3l-0.2 -0.2M93 56l-1.2 0.1M19 12l0.7 -0.1M129 2l-1.2 0.4M40 112l-1.0 -0.3M15 118l0.3 0.2M96 71l0.3 -0.7M79 79l0.1 -0.6M56 34l0.0 -0.0M105 108l-0.1 0.8M95 13l-0.9 -0.1M122 141l-0.9 0.2M126 29l0.1 -0.4M149 107l0.3 0.0M128 126l-0.7 1.1M61 58l0.9 -0.2M45 111l0.5 1.1M83 129l0.1 0.1M42 65l0.1 -0.4M25 93l-0.3 0.2M147 123l0.2 0.0M74 71l0.0 0.0M156 124l0.2 0.1M143 147l-0.6 -0.0M144 141l0.2 -1.0M90 132l-0.7 -0.1M31 58l0.1 0.0M83 132l0.6 -1.0M93 68l-0.6 1.0M72 123l0.2 -0.2M114 32l0.1 0.1M42 101l0.1 0.0M11 86l-0.3 -0.1M106 46l0.6 -0.4M119 34l-0.9 -0.3M43 105l-0.9 -0.9M70 56l0.6 0.3M96 105l-1.2 -0.4M109 142l-0.4 0.2M150 54l-0.4 1.0M99 64l-0.2 0.0M115 116l0.1 -0.0M46 146l-1.0 0.2M19 22l0.3 -0.5M84 76l-0.9 -0.4M114 119l0.9 0.4M26 120l0.1 -0.6M102 144l0.2 0.2M136 95l0.1 -0.2M104 110l0.1 0.0M129 78l-0.6 0.2M148 38l-0.1 0.7M56 54l-0.4 -1.1M114 53l0.2 -0.1M60 143l-0.0 -0.0M86 132l-0.1 0.6M58 119l0.9 0.4M101 137l0.7 -0.6M111 126l-0.6 -0.4M8 123l0.2 -0.7M24 140l-0.8 0.5M57 71l0.8 -0.6M145 114l1.0 0.7M137 131l-0.4 -0.0M113 98l0.7 -0.2M66 111l-0.1 0.1M81 139l1.0 -0.5M42 39l-0.0 -0.5M90 141l-0.7 0.9M25 101l0.7 -0.4M104 77l-0.0 0.3M28 110l0.3 1.1M45 30l0.5 -1.1M121 78l-0.9 0.3M92 114l-0.4 0.8M106 53l0.3 0.5M128 82l1.1 0.2M126 138l-0.8 -0.1M14 134l0.2 -0.3M144 109l-0.4 1.1M136 131l-0.6 0.3" stroke="#126226" stroke-width="2.4200000000000004" stroke-linecap="round" fill="none" filter="url(#bl1)"/><path d="M28 33l-0.2 -0.1M98 143l-0.1 -0.4M128 124l0.2 -0.1M25 33l0.0 -0.2M151 39l1.1 -0.2M108 109l0.7 0.5M20 28l0.1 0.7M134 137l0.1 -0.2M101 26l0.0 0.1M35 63l0.6 0.3M53 73l0.1 0.1M151 8l-0.1 -0.4M51 41l-0.2 0.4M123 81l0.2 -0.3M108 142l-0.7 -1.0M12 103l-0.3 -0.2M20 38l0.5 0.6M146 143l0.2 0.5M53 39l0.4 -0.9M104 2l-0.1 0.5M45 37l-0.1 0.4M132 72l-0.2 0.0M110 54l0.1 0.1M106 134l-0.3 0.6M91 68l-0.2 0.5M108 76l0.2 -1.0M106 52l-1.0 0.5M130 2l0.8 0.0M13 118l-0.2 -0.5M79 136l-0.3 0.1M52 88l0.0 -0.2M98 22l-0.9 -0.4" stroke="#28a046" stroke-width="2.2" stroke-linecap="round" fill="none" filter="url(#bl1)"/></svg>
<svg x="436.0" y="846.3" width="157.0" height="147.7" viewBox="0 0 157.0 147.7" overflow="hidden"><rect width="157.0" height="147.7" fill="#010401"/><path d="M38 74h0M32 142h0M130 124h0M33 145h0M34 61h0M120 49h0M0 141h0M22 122h0M115 116h0M133 68h0M11 143h0M126 29h0M25 120h0M88 57h0M10 24h0M113 107h0M120 138h0M5 33h0M15 70h0M2 126h0M6 10h0M89 36h0M83 126h0M51 4h0M127 141h0M36 7h0M116 108h0M64 41h0M45 13h0M123 129h0M74 47h0M138 123h0M77 61h0M140 61h0M115 135h0M71 55h0M26 21h0M104 81h0M111 88h0M103 66h0M78 7h0M125 2h0M93 109h0M121 114h0M5 134h0M17 1h0M120 14h0M144 34h0M116 120h0M63 3h0M71 19h0M31 140h0M20 120h0M150 97h0M28 12h0M103 102h0M20 84h0M83 33h0M60 102h0M43 77h0M152 58h0M113 6h0M76 7h0M111 33h0M22 121h0M1 12h0M20 108h0M132 65h0M46 87h0M80 14h0M140 26h0M21 108h0M93 19h0M78 83h0M26 141h0M119 8h0M38 88h0M100 141h0M48 100h0M93 122h0M123 72h0M86 54h0M47 110h0M42 20h0M103 12h0M27 141h0M7 132h0M134 2h0M2 123h0M116 125h0M33 124h0M155 12h0M108 42h0M31 24h0M153 52h0M131 64h0M21 46h0M37 92h0M107 89h0M131 97h0M52 94h0M20 33h0M5 28h0M106 136h0M140 100h0M10 33h0M124 144h0M8 146h0M29 4h0M8 2h0M135 31h0M134 78h0M152 148h0M75 27h0M148 18h0M9 48h0M7 140h0M5 129h0M134 112h0M82 35h0M77 60h0M122 34h0M79 58h0M33 87h0M128 94h0M95 83h0M94 46h0M126 136h0M87 77h0M51 91h0M80 105h0M127 57h0M26 78h0M82 121h0M28 12h0M72 84h0M27 141h0M119 28h0M90 109h0M26 95h0M40 88h0M148 71h0M141 7h0M105 103h0M11 27h0M25 34h0M26 16h0M79 43h0M45 11h0M102 20h0M118 0h0M125 28h0M69 28h0M63 91h0M124 134h0M103 92h0M1 107h0M124 70h0M66 38h0M25 128h0M157 75h0M60 4h0M115 33h0M26 147h0M115 97h0M134 147h0M103 41h0M124 24h0M20 5h0M41 108h0M130 32h0M83 14h0M13 76h0M53 52h0M61 118h0M14 37h0M154 54h0M112 98h0M111 55h0M122 133h0M10 30h0M123 141h0M121 137h0M77 36h0M35 6h0M32 22h0M13 34h0M66 28h0M12 34h0M73 40h0M62 3h0M24 137h0M86 68h0M107 67h0M4 66h0M112 18h0M33 22h0M132 68h0M27 17h0M109 93h0M3 66h0M20 41h0M113 15h0M62 134h0M101 136h0M145 33h0M46 126h0M81 32h0M104 102h0M108 56h0M111 123h0M117 2h0M99 44h0M20 12h0M107 90h0M60 24h0M123 66h0M34 42h0M81 44h0M49 6h0M48 131h0M118 3h0M15 34h0M98 122h0M7 40h0M83 35h0M123 79h0M85 48h0M99 8h0M105 24h0M110 84h0M7 3h0M44 125h0M19 2h0M52 81h0M98 85h0M90 139h0M90 84h0M102 68h0M46 10h0" stroke="#0c5a1c" stroke-width="6" stroke-linecap="round" fill="none" opacity="0.7" filter="url(#bl2)"/><path d="M65 27l0.8 -0.2M2 10l-0.8 0.1M28 14l0.2 -1.5M67 4l-0.3 0.2M27 18l-0.1 0.1M117 115l-0.9 -1.2M58 10l0.3 1.1M24 68l0.3 1.4M86 117l-0.5 -0.2M110 48l0.2 0.0M141 90l0.2 -0.2M18 51l-0.6 -0.6M109 123l-1.0 0.4M152 18l0.7 0.7M52 11l0.3 0.1M126 96l-0.1 -0.3M66 4l0.5 0.6M47 116l-0.0 -0.0M25 133l-0.4 -0.8M146 2l0.9 0.0M153 87l0.8 0.0M131 2l-0.4 -0.4M10 5l-0.8 0.9M25 24l0.2 0.7M73 39l-0.1 0.0M100 5l0.2 -0.2M2 17l0.2 -0.7M34 65l0.5 0.0M147 123l-0.6 -0.3M38 39l0.0 -0.0M82 74l0.6 -1.1M118 145l0.4 0.7M69 23l0.8 0.3M36 142l-0.1 -0.4M55 22l0.1 -0.4M91 55l0.7 0.3M73 58l-0.0 -0.5M103 13l0.2 1.0M31 103l-0.1 -0.2M149 88l0.5 0.8M106 54l0.1 -0.2M126 40l-0.6 -0.8M69 146l1.0 0.3M37 43l-0.2 0.0M47 44l0.3 0.3M41 116l-0.1 -0.2M44 59l-1.1 -0.6M103 32l-0.9 -0.4M59 106l1.1 1.0M153 21l1.2 -0.4M51 104l0.1 0.9M4 141l0.0 -0.2M105 6l0.9 1.0M22 67l-1.3 -0.5M123 136l-1.2 0.7M117 146l-0.1 -0.3M140 91l0.1 1.4M123 107l1.1 0.9M120 42l-0.9 -1.1M115 146l0.0 0.1M102 16l0.7 -0.3M150 107l-0.2 0.9M123 117l0.7 0.8M35 91l-0.7 -0.7M139 11l-0.4 0.4M74 7l0.0 0.1M77 25l-0.5 -0.0M118 23l-0.1 0.1M28 140l0.1 -0.9M84 35l0.5 0.4M74 53l-1.1 0.5M144 55l-0.3 0.4M65 80l-1.2 -0.3M60 59l1.4 0.2M69 30l0.0 0.0M16 15l-0.1 1.0M8 140l0.5 -0.4M46 105l0.4 0.4M45 112l-0.3 0.7M130 147l0.8 0.7M51 49l0.2 -0.3M23 137l-1.4 0.5M150 118l0.0 0.0M38 44l-0.3 -0.6M116 2l-0.3 0.2M83 124l-1.0 -0.9M82 63l0.1 -0.5M78 131l0.3 0.7M132 59l0.8 -0.3M26 113l-0.8 -0.4M116 51l1.3 -0.8M46 35l0.2 1.1M142 81l-0.2 -0.7M121 148l-0.1 -0.2M21 119l-0.2 0.0M37 81l0.9 0.2M43 124l0.7 -0.1M106 108l-0.5 -0.7M90 85l0.1 0.4M92 41l-0.6 -0.6M127 4l0.7 0.2M34 22l-1.0 -0.2M150 99l1.0 0.9M109 26l-1.1 -0.2M124 69l-0.0 -0.4M133 83l0.2 0.4M141 1l0.0 -0.4M102 95l0.9 -0.3M103 26l-0.4 -0.4M47 51l-1.1 0.2M83 122l-1.3 0.1M16 147l0.8 -0.1M98 50l0.1 -0.2M34 96l0.3 0.4M80 73l0.1 -0.1M5 106l-0.3 1.3M121 7l0.1 0.2M150 19l-0.0 0.5M152 11l-0.8 -0.1M2 8l-0.9 1.1M111 116l-0.3 -1.2M103 57l0.0 -0.8M0 42l0.0 -1.2M80 15l1.1 -0.5M111 31l-0.2 -1.5M17 102l-0.2 -0.1M113 141l-0.0 1.4M36 55l0.6 1.0M144 16l-0.3 0.5M86 104l0.8 0.1M136 40l0.6 -1.0M68 44l0.9 0.1M81 59l0.2 -0.4M120 11l0.2 0.2M98 34l-0.3 -0.2M26 144l-1.1 1.0M48 93l-0.6 -0.5M154 83l-0.0 0.9M9 10l0.1 -0.6M66 26l0.0 -0.1M115 11l0.4 0.9M104 29l0.8 1.0M128 7l-0.5 1.2M87 142l0.3 0.0M51 131l-0.0 -0.6M132 144l-0.2 -0.2M126 143l-1.0 -0.9M24 56l0.8 1.0M73 47l1.1 -0.0M127 4l0.2 -0.7M136 79l0.7 -0.8M72 58l-0.2 1.1M117 0l-1.2 0.0M106 40l-0.9 -0.9M143 30l1.0 0.3M11 145l0.0 0.0M87 59l-0.6 -0.2M110 69l0.5 0.7M54 139l0.7 -0.5M120 74l0.7 0.7M128 147l0.2 -0.0M89 121l0.4 0.0M81 45l-0.0 0.1M6 129l-0.2 0.3M86 44l0.8 0.7M81 82l-0.6 0.6M2 91l1.1 0.2M30 51l-0.6 -1.0M150 57l1.0 -1.0M2 11l-0.3 1.4M95 37l0.6 -0.0M22 60l0.7 -0.2M43 141l-0.2 0.1M118 74l-0.1 1.2M130 49l0.0 -0.0M55 91l-0.4 1.1M87 85l0.0 0.7M123 78l0.1 -0.7M130 142l0.2 -0.2M132 138l-1.5 -0.0M126 136l0.1 1.2M43 132l-0.3 -0.9M79 96l-0.4 -0.2M103 13l0.6 -1.3M66 112l0.2 -1.0M129 95l0.5 0.5M14 45l-0.5 0.1M113 52l-0.0 -0.4M120 22l-0.7 0.4M127 22l0.3 0.2M77 80l0.9 0.2M152 21l1.0 -0.5M65 98l1.1 -0.1M81 28l-1.1 0.2M101 61l-0.2 -0.9M47 24l1.2 -0.7M105 33l1.1 -0.6M91 114l0.3 -0.3M44 25l0.5 -0.6M22 47l-0.5 0.8M46 94l0.2 0.0M81 85l0.6 -0.5M130 29l1.3 0.1M116 48l0.2 -0.2M139 62l-1.1 0.7M154 21l0.4 0.2M153 35l-0.2 -1.0M66 34l1.2 -0.8M132 142l-0.2 0.7M143 69l0.2 0.9M16 132l-0.4 0.1M2 68l-0.0 0.0M120 36l0.7 0.4M50 116l0.6 -0.3M129 136l-0.0 0.2M8 26l0.9 0.5M109 43l0.5 -0.1M29 72l0.4 -0.1M11 136l-0.0 -1.0M117 96l0.3 -0.5M43 46l0.5 0.3M22 136l-0.5 0.4M17 142l0.8 -0.4M25 54l-0.2 1.1M83 14l-0.2 0.4M148 117l0.2 -1.0M80 141l0.0 -0.5M62 54l-0.6 -0.1M111 133l0.3 -0.2M118 88l0.2 -0.0M109 121l-0.9 0.6M21 39l-0.5 -0.5M15 62l0.3 -0.5M30 7l-1.3 -0.1M63 10l-0.5 0.1M20 144l0.4 -0.3M147 25l0.7 -0.1M67 3l-0.1 -0.4M18 14l0.2 0.6M30 27l0.6 -0.4M154 96l0.1 0.1M19 43l-0.8 -0.5M151 31l-0.1 1.0M137 85l-0.8 0.2M74 43l-0.8 0.7M42 47l0.4 -0.7M119 117l-0.2 0.8M24 22l0.1 0.2M10 62l-0.7 -0.9M70 53l-0.0 0.2M108 17l0.6 -0.9M112 85l-0.2 0.4M29 139l-1.2 0.0M34 6l0.2 -0.2M43 121l0.1 -0.7M102 19l-0.1 0.4M97 128l-0.2 -0.7M127 129l0.0 -0.0M150 18l0.2 -0.2M140 139l0.9 1.1M144 82l-0.0 -0.2M62 38l-1.5 -0.2M22 26l1.4 -0.0M112 34l-0.3 0.2M11 147l0.7 0.8M36 75l0.4 -0.0M30 19l0.5 -0.1M136 144l1.0 0.3M112 69l-0.3 0.4M95 34l0.0 0.4" stroke="#0e5e1e" stroke-width="2.688" stroke-linecap="round" fill="none" opacity="0.95" filter="url(#bl1)"/><path d="M36 21l0.9 0.2M106 121l0.8 0.1M75 59l0.4 -0.1M66 58l0.9 -0.2M72 35l0.0 -0.0M88 20l-0.1 -0.8M15 129l-0.4 -0.3M34 119l1.0 -0.1M41 82l-0.2 -1.0M82 54l-1.2 -0.4M122 98l-0.6 -0.6M122 146l0.5 0.6M127 122l0.5 0.7M59 5l-1.0 0.5M83 126l-0.5 -0.3M52 19l-0.3 -0.0M47 17l1.3 -0.1M5 119l-0.3 0.2M115 23l-0.9 0.3M9 71l-1.3 0.5M95 35l0.5 0.2M74 48l-0.1 -0.0M107 33l-0.8 0.2M79 60l-0.5 1.4M11 24l-0.3 0.4M109 83l-0.3 -0.2M135 143l-0.2 0.0M5 39l1.0 0.4M56 76l-0.0 0.2M106 80l-0.0 0.6M26 56l0.6 0.8M86 112l-0.3 -1.4M85 89l0.5 0.1M115 92l-0.6 -1.1M82 41l0.0 1.3M60 56l0.8 0.2M39 18l0.2 0.0M97 66l-0.1 -0.7M7 130l1.2 -0.8M5 33l-0.8 0.3M118 15l-0.2 0.2M116 118l-1.0 0.6M51 128l-1.0 0.6M116 35l0.1 0.1M108 38l0.3 -0.0M118 15l0.8 1.0M76 92l0.0 -1.3M33 17l0.1 -0.1M132 39l-0.9 -0.4M43 7l-0.1 0.9M82 99l-0.3 0.4M119 136l-0.7 0.5M78 62l0.4 1.0M102 14l-0.4 0.4M114 78l-0.7 0.4M70 60l1.3 -0.3M11 2l-0.2 -0.0M3 35l1.1 0.6M31 63l0.4 0.0M77 111l-0.0 -0.0M109 72l-0.9 -1.0M87 92l-0.5 -0.9M17 131l-0.1 -0.9M155 92l0.1 0.0M2 106l0.1 -1.1M45 32l0.5 -1.0M19 58l0.0 0.0M154 42l-0.1 -0.0M150 144l-0.2 -0.4M32 72l-0.4 -1.0M114 137l0.7 -0.3M154 19l-0.3 0.0M34 137l-0.0 0.1M129 121l0.2 -0.0M72 130l0.0 -0.0M55 113l-0.3 0.1M21 137l0.0 -0.2M143 23l0.1 -1.2M137 141l-0.8 -0.2M43 128l-1.0 0.4M102 29l-1.2 0.4M89 59l0.1 0.2M109 27l-0.2 -0.2M44 132l0.3 0.9M53 52l0.2 -0.0M34 126l-0.0 0.4M86 123l-0.5 0.8M38 61l-0.3 -0.1M40 5l0.2 -0.1M79 79l-0.5 1.2M131 74l-0.0 -1.0M93 128l0.0 0.3M18 46l-0.2 -0.4M112 102l0.2 0.8M104 84l-0.6 0.0M56 48l0.3 -0.3M26 25l0.5 -0.1M55 5l0.6 0.1M11 43l-0.0 0.2M34 96l-0.3 0.5M52 85l-0.1 1.1M114 29l0.2 -0.0M64 110l0.3 0.4M92 30l0.3 -0.4M122 7l-0.0 -0.4M56 59l0.0 0.1M10 122l0.5 0.5M118 59l-0.4 -1.0M29 23l0.2 0.3M24 16l-0.2 -1.3M121 39l-0.2 -0.2M23 114l-0.1 -1.4M32 36l0.9 0.2M138 85l0.5 1.1M36 9l-0.0 -0.9M64 28l0.4 -0.8M135 39l0.8 -0.2M137 56l0.5 0.2M116 143l0.2 1.0M107 32l0.4 0.4M107 107l1.5 0.1M35 83l-0.7 -0.8M31 82l-0.2 -1.0M46 124l0.3 0.1M40 67l-0.1 1.1M73 131l0.2 0.3M27 132l-0.1 0.7M86 106l0.3 0.5M45 5l1.0 -0.5M73 44l1.0 0.6M37 15l-0.5 -1.0M19 133l-0.3 1.2M128 22l0.5 -0.2M68 108l-0.5 0.4M0 127l0.3 -0.2M129 89l0.1 0.0M33 146l0.0 0.0M12 32l0.6 0.5M140 69l0.6 1.2M70 30l-0.4 -0.2M75 43l-0.5 -0.0M38 72l-0.5 -1.2M28 39l-1.1 0.7M11 38l0.4 -1.0M27 142l0.8 -0.6M68 41l1.0 0.8M127 36l0.1 -0.2M84 80l-0.7 0.3M32 24l0.2 -0.2M119 17l-0.2 -0.5M32 78l0.2 -0.1M32 10l-0.3 1.2M85 44l0.4 0.3M71 9l0.2 -0.1M96 116l0.1 -0.0M81 78l-0.7 -0.3M74 14l0.6 -0.1M120 143l-0.9 0.3M123 78l-0.5 0.1M60 78l0.0 -0.2M123 27l-0.6 0.5M114 127l-0.0 0.5M131 125l-0.4 1.3M51 111l0.2 0.0M35 148l-0.0 0.2M108 96l1.4 -0.5M97 0l0.1 -0.0M77 78l1.1 -1.0M74 23l0.0 -1.4M72 38l-0.8 0.6M104 65l0.6 -0.7M27 137l0.4 0.1M29 108l0.7 0.6M98 10l-0.4 1.0M80 34l0.0 -0.7M23 108l1.0 0.1M37 129l0.8 -0.1M125 2l0.4 -0.9M12 33l0.0 -0.5M122 141l0.4 -0.6M121 35l-0.2 0.0M137 94l0.4 -0.7M126 136l-0.6 -0.8M65 1l0.7 0.0M107 141l0.6 0.3M72 40l-0.9 0.2M1 4l-0.0 0.6M37 24l1.1 -0.6M91 91l0.0 -0.9M19 77l-0.3 0.2M110 38l0.7 0.1M13 118l0.6 -1.0M27 142l0.2 0.2M113 129l0.1 1.0M29 143l0.2 -0.3M111 104l-0.1 0.6M32 26l0.9 -0.8M59 70l0.1 1.1M12 127l-0.5 1.3M119 22l0.8 -1.3M38 78l0.0 0.0M25 8l-0.2 -0.4M122 134l0.4 0.2M120 135l-0.1 -1.0M109 29l-0.4 -0.6M143 28l0.4 -0.8M82 95l0.7 -0.1M24 87l0.6 0.4M60 91l1.3 -0.3M114 98l0.1 -0.2M106 59l0.5 0.3M35 15l-0.4 -0.2M3 128l-0.5 -0.1M117 42l0.3 0.2M88 24l0.1 1.3M50 131l-1.2 -0.1M115 25l-0.4 -0.3M55 55l1.1 0.7M96 24l-1.0 0.2M109 31l0.2 1.0M4 125l0.0 0.1M62 55l1.1 -0.4M116 121l0.4 0.5M49 142l0.7 -0.9M8 8l0.5 0.1M70 76l-0.0 -0.2M117 3l1.2 -0.4M97 147l-0.7 -0.4M104 30l0.1 0.5M115 7l-0.3 -0.3M104 22l-0.3 -0.1M56 10l0.3 0.1M79 8l-0.6 0.3M52 46l0.1 -0.4M71 87l-1.0 -0.9M114 100l-0.1 -0.0M119 87l0.4 -0.2M56 5l-0.5 1.1M16 87l-0.1 -0.4M90 58l-0.1 0.4M119 144l0.2 -0.1M37 58l0.4 -1.3M19 16l0.0 -0.0M36 11l0.5 -0.2M28 5l-0.2 -1.1M130 140l0.6 -0.2M39 140l-0.0 0.9M28 44l0.5 0.6M78 64l-0.6 0.2M84 8l0.1 -0.1" stroke="#1a8e34" stroke-width="2.4640000000000004" stroke-linecap="round" fill="none" filter="url(#bl1)"/><path d="M140 54l-0.3 -0.1M126 38l-0.9 -1.1M82 109l0.7 0.2M108 31l-0.3 0.3M40 72l1.0 -1.0M25 135l0.2 -0.6M56 5l0.1 -0.1M82 86l-0.7 0.0M127 72l0.7 0.4M77 40l-0.4 0.4M16 132l0.8 0.6M112 2l0.0 0.0M74 114l0.3 -0.3M147 24l-0.8 -0.7M14 132l0.1 -1.4M5 115l0.4 0.6M113 39l0.7 0.8M104 38l0.1 0.4M17 30l-0.0 1.1M126 30l-1.2 0.2M125 33l-0.7 -0.5M12 28l-0.2 -0.4M141 21l-0.3 0.3M103 131l0.4 1.3M100 42l-0.5 -0.4M32 11l-0.2 -0.2M38 91l0.5 -0.5M4 29l-0.3 1.0M17 8l-1.1 0.1M45 120l1.0 1.0M79 92l0.1 -0.1M115 13l-0.1 -0.0M4 91l0.3 0.1M18 143l1.3 0.6M111 143l-0.8 0.0M74 60l-0.1 -0.4M120 142l-1.1 0.1M119 55l-0.4 -0.3M119 144l1.2 0.5M137 89l1.5 -0.1M19 47l0.2 0.2M101 123l0.4 1.2M28 16l-1.0 0.6M105 49l0.0 -0.7M84 23l0.4 1.4M23 122l-1.0 -0.5M11 137l0.8 0.2M7 37l0.1 -0.5M108 126l-1.1 0.6M9 32l-1.0 0.0M14 141l-0.1 0.1M35 74l-0.9 -0.2M36 132l-0.1 -0.6M102 136l0.4 -1.1M107 62l0.2 0.1M121 144l0.4 -1.2M63 27l0.0 -0.2M69 27l0.2 -0.1M113 102l0.5 0.8M112 30l-0.0 -0.1M103 82l-0.1 -0.2M20 32l-0.3 0.2M85 15l0.1 -0.7M22 131l1.2 0.5M17 25l-1.0 0.9M88 42l0.1 0.1M62 7l-0.2 0.6M75 92l0.9 0.1M119 134l0.3 -0.8M21 125l-1.3 0.1M22 17l-0.1 0.1M37 140l0.0 1.3M65 83l0.4 0.4M18 142l-0.6 1.2M37 83l-0.4 -0.5M85 48l-0.1 0.4M110 78l0.5 0.3M108 123l-0.9 -0.5M122 142l-0.1 0.2M55 11l-0.9 1.1M14 34l-0.1 -1.5M10 136l-0.7 -0.4M116 130l0.2 -0.2M53 60l0.0 0.3M9 35l0.0 0.2M139 26l0.6 -0.3M5 5l-0.7 -0.0M13 136l0.2 0.2M105 66l1.3 0.2M84 127l0.3 0.4M54 79l1.2 -0.1M97 64l0.1 -0.2M77 128l-1.4 0.3M28 15l-1.0 -0.9M13 48l-0.6 0.4M0 56l0.9 -0.5M149 90l1.0 0.9M34 47l-0.0 0.0M50 86l0.0 -1.2M87 88l0.6 0.4" stroke="#3cd862" stroke-width="2.24" stroke-linecap="round" fill="none" filter="url(#bl1)"/><path d="M14 140l0.6 3.7M17 138l0.1 -0.0M81 98l1.6 -2.3M10 30l-0.0 -0.0M52 10l0.7 -1.3M54 47l0.7 -2.0M66 38l0.2 -2.9M82 62l-1.4 2.3M81 16l3.5 -0.7M21 23l0.3 -0.2M118 145l-2.1 -2.6M13 62l-0.1 0.2M110 96l-0.0 -2.3M126 32l1.0 -0.2M24 143l2.0 1.2M38 9l1.5 -2.1M10 39l1.1 0.8M43 121l1.1 1.2M9 4l0.3 -1.8M156 99l-0.9 -0.2M8 86l-3.9 -0.4M80 55l-1.0 0.7M106 131l-1.3 -3.3M123 73l2.4 0.9M41 59l-1.9 -1.4M83 51l-2.7 -0.2M121 136l0.6 -0.8M67 2l0.4 0.5M32 84l-0.9 -0.3M19 56l-2.1 0.4M74 131l-2.3 1.0M18 136l-2.1 -0.3M62 62l0.3 -1.5M26 135l3.6 0.6M26 108l-1.0 1.2M39 135l1.7 1.6M21 139l0.1 -0.3M49 110l-0.2 -0.1M5 27l-0.5 0.3M10 36l-0.5 -3.7M85 43l-1.4 -0.3M123 33l-0.3 -3.2" stroke="#3cd862" stroke-width="3.248" stroke-linecap="round" fill="none" opacity="0.95" filter="url(#bl1)"/></svg>
</g>
<g id="pE">
<text transform="translate(647.5 578.8) scale(1 1.04)" class="b">E</text>
<path d="M759.8 813.2V803.8H765.2V601.3H770.8V645.0H776.4V787.0H781.8V813.2Z" fill="#f0373f" stroke="#f5868a" stroke-width="0.8"/>
<path d="M816.5 813.2V811.3H822.0V805.0H827.3V787.0H832.7V754.5H838.1V722.5H843.6V722.0H849.2V745.0H854.6V771.3H860.0V795.8H865.6V807.0H871.2V813.2Z" fill="#000"/>
<path d="M986.3 813.2V811.5H991.7V808.2H997.2V801.5H1002.6V790.2H1008.0V779.7H1013.4V770.7H1018.9V768.2H1024.3V769.0H1029.7V772.2H1035.2V776.2H1040.6V780.7H1046.0V785.2H1051.5V789.2H1056.9V793.2H1062.3V797.2H1067.8V801.2H1073.2V805.2H1078.6V809.2H1084.0V813.2Z" fill="#14b41e"/>
<path d="M759.5 562.5V813M752.5 813H1104" stroke="#000" stroke-width="3.1" fill="none"/>
<path d="M751.5 563.8H759.5M751.5 646.8H759.5M751.5 730.0H759.5M760.0 813V819.6M787.1 813V819.6M814.3 813V819.6M841.5 813V819.6M868.6 813V819.6M895.8 813V819.6M922.9 813V819.6M950.0 813V819.6M977.2 813V819.6M1004.4 813V819.6M1031.5 813V819.6M1058.7 813V819.6M1085.8 813V819.6" stroke="#000" stroke-width="2.3" fill="none"/>
<g font-size="29" text-anchor="middle">
<text transform="translate(744 566.3) rotate(-90) scale(1 1.04)">60</text>
<text transform="translate(744 642) rotate(-90) scale(1 1.04)">40</text>
<text transform="translate(744 727.8) rotate(-90) scale(1 1.04)">20</text>
<text transform="translate(744 813) rotate(-90) scale(1 1.04)">0</text>
<text transform="translate(761 849.6) scale(1 1.04)">0</text><text transform="translate(842 849.6) scale(1 1.04)">0.3</text><text transform="translate(926 849.6) scale(1 1.04)">0.6</text><text transform="translate(1003 849.6) scale(1 1.04)">0.9</text><text transform="translate(1084.5 849.6) scale(1 1.04)">1.2</text>
</g>
<text class="t30" transform="translate(707.5 680.5) rotate(-90) scale(1 1.04)" text-anchor="middle">Percent of cells</text>
<text transform="translate(937 887.2) scale(1 1.04)" class="t30" text-anchor="middle">GFP/mCherry ratio</text>
<g class="t27" text-anchor="end" style="font-size:27.75px">
<text transform="translate(1160.5 582.2) scale(1 1.04)" style="fill:#dc2a33">mCh-FSE-GFP(0) (n=18,421)</text>
<text transform="translate(1160.5 615.6) scale(1 1.04)">mCh-FSE-GFP(&#8722;1) (n=21,733)</text>
<text transform="translate(1160.5 649.4) scale(1 1.04)" style="fill:#17a84c">No-FSE mCh-GFP fusion</text>
<text transform="translate(1160.5 683) scale(1 1.04)" style="fill:#17a84c">(n=21,733)</text>
</g>
</g>
<g id="pF">
<text transform="translate(41 1041.7) scale(1 1.04)" class="b">F</text>
<g class="t30" text-anchor="middle">
<text transform="translate(128.5 1089.8) scale(1 1.04)">HEK293T</text><text transform="translate(128.5 1125.6) scale(1 1.04)">cells</text>
<text transform="translate(285.3 1089.8) scale(1 1.04)">Add</text><text transform="translate(285.3 1125.6) scale(1 1.04)">compounds</text>
<text transform="translate(438 1089.8) scale(1 1.04)">Transfect</text><text transform="translate(438 1125.6) scale(1 1.04)">reporter</text>
<text transform="translate(236.7 1207) scale(1 1.04)">24 hr</text><text transform="translate(366 1207) scale(1 1.04)">30 min</text><text transform="translate(489.3 1207) scale(1 1.04)">24 hr</text>
<text transform="translate(614 1196.8) scale(1 1.04)">Automated</text><text transform="translate(614.3 1233.7) scale(1 1.04)">imaging</text><text transform="translate(614.3 1270.7) scale(1 1.04)">&amp; quantification</text>
</g>
<path d="M126.2 1138.5V1174" stroke="#000" stroke-width="4.6"/><path d="M115.9 1171.5H136.5L126.2 1191.3Z" fill="#000"/>
<path d="M298.8 1138.5V1174" stroke="#000" stroke-width="4.6"/><path d="M288.5 1171.5H309.1L298.8 1191.3Z" fill="#000"/>
<path d="M429.4 1138.5V1174" stroke="#000" stroke-width="4.6"/><path d="M419.1 1171.5H439.7L429.4 1191.3Z" fill="#000"/>
<path d="M200.6 1226.3H282.8" stroke="#4f81bd" stroke-width="5.2"/><path d="M280.2 1216.5V1236.1L299.8 1226.3Z" fill="#4f81bd"/>
<path d="M321.0 1226.3H401.8" stroke="#4f81bd" stroke-width="5.2"/><path d="M399.2 1216.5V1236.1L418.8 1226.3Z" fill="#4f81bd"/>
<path d="M440.8 1226.3H522.0" stroke="#4f81bd" stroke-width="5.2"/><path d="M519.4 1216.5V1236.1L539.0 1226.3Z" fill="#4f81bd"/>
<g fill="#fff" stroke="#1a1a1a" stroke-width="1.5" stroke-linejoin="round">
<path d="M52.3 1256L50.6 1258.4L52.6 1261.6L50.6 1264L52.6 1268.5H197.5L199.8 1264L198.4 1261.6L199.8 1258.4L199.2 1256Z"/>
<path d="M52.6 1261.6H198.4M50.9 1264H199.6" fill="none" stroke-width="1.1"/>
<path d="M52 1256L71.2 1202.5Q72.3 1199.6 75.5 1199.6H180.5Q182.8 1199.6 183.6 1202L199.4 1256Z"/>
</g>
<path d="M52.5 1256H199" stroke="#8a8a8a" stroke-width="1.4"/>
<ellipse cx="80.4" cy="1204.2" rx="2.9" ry="2.0" fill="#2676d0" stroke="#133b68" stroke-width="0.8"/><ellipse cx="88.8" cy="1204.2" rx="2.9" ry="2.0" fill="#3f86d5" stroke="#1f436b" stroke-width="0.8"/><ellipse cx="97.1" cy="1204.2" rx="2.9" ry="2.0" fill="#5191d9" stroke="#28496d" stroke-width="0.8"/><ellipse cx="105.5" cy="1204.2" rx="2.9" ry="2.0" fill="#619bdd" stroke="#314e6e" stroke-width="0.8"/><ellipse cx="113.9" cy="1204.2" rx="2.9" ry="2.0" fill="#71a5e0" stroke="#385370" stroke-width="0.8"/><ellipse cx="122.2" cy="1204.2" rx="2.9" ry="2.0" fill="#7faee3" stroke="#405772" stroke-width="0.8"/><ellipse cx="130.6" cy="1204.2" rx="2.9" ry="2.0" fill="#8db7e6" stroke="#475c73" stroke-width="0.8"/><ellipse cx="138.9" cy="1204.2" rx="2.9" ry="2.0" fill="#9bc0e9" stroke="#4e6075" stroke-width="0.8"/><ellipse cx="147.3" cy="1204.2" rx="2.9" ry="2.0" fill="#a8c8ec" stroke="#546476" stroke-width="0.8"/><ellipse cx="155.7" cy="1204.2" rx="2.9" ry="2.0" fill="#b5d0ef" stroke="#5b6877" stroke-width="0.8"/><ellipse cx="164.0" cy="1204.2" rx="2.9" ry="2.0" fill="#c2d8f1" stroke="#616c79" stroke-width="0.8"/><ellipse cx="172.4" cy="1204.2" rx="2.9" ry="2.0" fill="#cee0f4" stroke="#67707a" stroke-width="0.8"/><ellipse cx="79.0" cy="1209.3" rx="3.1" ry="2.1" fill="#2676d0" stroke="#133b68" stroke-width="0.8"/><ellipse cx="87.6" cy="1209.3" rx="3.1" ry="2.1" fill="#3f86d5" stroke="#1f436b" stroke-width="0.8"/><ellipse cx="96.2" cy="1209.3" rx="3.1" ry="2.1" fill="#5191d9" stroke="#28496d" stroke-width="0.8"/><ellipse cx="104.8" cy="1209.3" rx="3.1" ry="2.1" fill="#619bdd" stroke="#314e6e" stroke-width="0.8"/><ellipse cx="113.4" cy="1209.3" rx="3.1" ry="2.1" fill="#71a5e0" stroke="#385370" stroke-width="0.8"/><ellipse cx="122.1" cy="1209.3" rx="3.1" ry="2.1" fill="#7faee3" stroke="#405772" stroke-width="0.8"/><ellipse cx="130.7" cy="1209.3" rx="3.1" ry="2.1" fill="#8db7e6" stroke="#475c73" stroke-width="0.8"/><ellipse cx="139.3" cy="1209.3" rx="3.1" ry="2.1" fill="#9bc0e9" stroke="#4e6075" stroke-width="0.8"/><ellipse cx="147.9" cy="1209.3" rx="3.1" ry="2.1" fill="#a8c8ec" stroke="#546476" stroke-width="0.8"/><ellipse cx="156.5" cy="1209.3" rx="3.1" ry="2.1" fill="#b5d0ef" stroke="#5b6877" stroke-width="0.8"/><ellipse cx="165.1" cy="1209.3" rx="3.1" ry="2.1" fill="#c2d8f1" stroke="#616c79" stroke-width="0.8"/><ellipse cx="173.7" cy="1209.3" rx="3.1" ry="2.1" fill="#cee0f4" stroke="#67707a" stroke-width="0.8"/><ellipse cx="77.4" cy="1214.9" rx="3.2" ry="2.2" fill="#2676d0" stroke="#133b68" stroke-width="0.8"/><ellipse cx="86.3" cy="1214.9" rx="3.2" ry="2.2" fill="#3f86d5" stroke="#1f436b" stroke-width="0.8"/><ellipse cx="95.2" cy="1214.9" rx="3.2" ry="2.2" fill="#5191d9" stroke="#28496d" stroke-width="0.8"/><ellipse cx="104.1" cy="1214.9" rx="3.2" ry="2.2" fill="#619bdd" stroke="#314e6e" stroke-width="0.8"/><ellipse cx="113.0" cy="1214.9" rx="3.2" ry="2.2" fill="#71a5e0" stroke="#385370" stroke-width="0.8"/><ellipse cx="121.9" cy="1214.9" rx="3.2" ry="2.2" fill="#7faee3" stroke="#405772" stroke-width="0.8"/><ellipse cx="130.8" cy="1214.9" rx="3.2" ry="2.2" fill="#8db7e6" stroke="#475c73" stroke-width="0.8"/><ellipse cx="139.6" cy="1214.9" rx="3.2" ry="2.2" fill="#9bc0e9" stroke="#4e6075" stroke-width="0.8"/><ellipse cx="148.5" cy="1214.9" rx="3.2" ry="2.2" fill="#a8c8ec" stroke="#546476" stroke-width="0.8"/><ellipse cx="157.4" cy="1214.9" rx="3.2" ry="2.2" fill="#b5d0ef" stroke="#5b6877" stroke-width="0.8"/><ellipse cx="166.3" cy="1214.9" rx="3.2" ry="2.2" fill="#c2d8f1" stroke="#616c79" stroke-width="0.8"/><ellipse cx="175.2" cy="1214.9" rx="3.2" ry="2.2" fill="#cee0f4" stroke="#67707a" stroke-width="0.8"/><ellipse cx="75.9" cy="1220.5" rx="3.4" ry="2.3" fill="#2676d0" stroke="#133b68" stroke-width="0.8"/><ellipse cx="85.0" cy="1220.5" rx="3.4" ry="2.3" fill="#3f86d5" stroke="#1f436b" stroke-width="0.8"/><ellipse cx="94.2" cy="1220.5" rx="3.4" ry="2.3" fill="#5191d9" stroke="#28496d" stroke-width="0.8"/><ellipse cx="103.4" cy="1220.5" rx="3.4" ry="2.3" fill="#619bdd" stroke="#314e6e" stroke-width="0.8"/><ellipse cx="112.5" cy="1220.5" rx="3.4" ry="2.3" fill="#71a5e0" stroke="#385370" stroke-width="0.8"/><ellipse cx="121.7" cy="1220.5" rx="3.4" ry="2.3" fill="#7faee3" stroke="#405772" stroke-width="0.8"/><ellipse cx="130.9" cy="1220.5" rx="3.4" ry="2.3" fill="#8db7e6" stroke="#475c73" stroke-width="0.8"/><ellipse cx="140.0" cy="1220.5" rx="3.4" ry="2.3" fill="#9bc0e9" stroke="#4e6075" stroke-width="0.8"/><ellipse cx="149.2" cy="1220.5" rx="3.4" ry="2.3" fill="#a8c8ec" stroke="#546476" stroke-width="0.8"/><ellipse cx="158.3" cy="1220.5" rx="3.4" ry="2.3" fill="#b5d0ef" stroke="#5b6877" stroke-width="0.8"/><ellipse cx="167.5" cy="1220.5" rx="3.4" ry="2.3" fill="#c2d8f1" stroke="#616c79" stroke-width="0.8"/><ellipse cx="176.7" cy="1220.5" rx="3.4" ry="2.3" fill="#cee0f4" stroke="#67707a" stroke-width="0.8"/><ellipse cx="74.1" cy="1227.0" rx="3.6" ry="2.5" fill="#2676d0" stroke="#133b68" stroke-width="0.8"/><ellipse cx="83.6" cy="1227.0" rx="3.6" ry="2.5" fill="#3f86d5" stroke="#1f436b" stroke-width="0.8"/><ellipse cx="93.0" cy="1227.0" rx="3.6" ry="2.5" fill="#5191d9" stroke="#28496d" stroke-width="0.8"/><ellipse cx="102.5" cy="1227.0" rx="3.6" ry="2.5" fill="#619bdd" stroke="#314e6e" stroke-width="0.8"/><ellipse cx="112.0" cy="1227.0" rx="3.6" ry="2.5" fill="#71a5e0" stroke="#385370" stroke-width="0.8"/><ellipse cx="121.5" cy="1227.0" rx="3.6" ry="2.5" fill="#7faee3" stroke="#405772" stroke-width="0.8"/><ellipse cx="131.0" cy="1227.0" rx="3.6" ry="2.5" fill="#8db7e6" stroke="#475c73" stroke-width="0.8"/><ellipse cx="140.4" cy="1227.0" rx="3.6" ry="2.5" fill="#9bc0e9" stroke="#4e6075" stroke-width="0.8"/><ellipse cx="149.9" cy="1227.0" rx="3.6" ry="2.5" fill="#a8c8ec" stroke="#546476" stroke-width="0.8"/><ellipse cx="159.4" cy="1227.0" rx="3.6" ry="2.5" fill="#b5d0ef" stroke="#5b6877" stroke-width="0.8"/><ellipse cx="168.9" cy="1227.0" rx="3.6" ry="2.5" fill="#c2d8f1" stroke="#616c79" stroke-width="0.8"/><ellipse cx="178.4" cy="1227.0" rx="3.6" ry="2.5" fill="#cee0f4" stroke="#67707a" stroke-width="0.8"/><ellipse cx="72.4" cy="1233.2" rx="3.8" ry="2.6" fill="#2676d0" stroke="#133b68" stroke-width="0.8"/><ellipse cx="82.1" cy="1233.2" rx="3.8" ry="2.6" fill="#3f86d5" stroke="#1f436b" stroke-width="0.8"/><ellipse cx="91.9" cy="1233.2" rx="3.8" ry="2.6" fill="#5191d9" stroke="#28496d" stroke-width="0.8"/><ellipse cx="101.7" cy="1233.2" rx="3.8" ry="2.6" fill="#619bdd" stroke="#314e6e" stroke-width="0.8"/><ellipse cx="111.5" cy="1233.2" rx="3.8" ry="2.6" fill="#71a5e0" stroke="#385370" stroke-width="0.8"/><ellipse cx="121.3" cy="1233.2" rx="3.8" ry="2.6" fill="#7faee3" stroke="#405772" stroke-width="0.8"/><ellipse cx="131.1" cy="1233.2" rx="3.8" ry="2.6" fill="#8db7e6" stroke="#475c73" stroke-width="0.8"/><ellipse cx="140.8" cy="1233.2" rx="3.8" ry="2.6" fill="#9bc0e9" stroke="#4e6075" stroke-width="0.8"/><ellipse cx="150.6" cy="1233.2" rx="3.8" ry="2.6" fill="#a8c8ec" stroke="#546476" stroke-width="0.8"/><ellipse cx="160.4" cy="1233.2" rx="3.8" ry="2.6" fill="#b5d0ef" stroke="#5b6877" stroke-width="0.8"/><ellipse cx="170.2" cy="1233.2" rx="3.8" ry="2.6" fill="#c2d8f1" stroke="#616c79" stroke-width="0.8"/><ellipse cx="180.0" cy="1233.2" rx="3.8" ry="2.6" fill="#cee0f4" stroke="#67707a" stroke-width="0.8"/><ellipse cx="70.5" cy="1240.0" rx="4.0" ry="2.7" fill="#2676d0" stroke="#133b68" stroke-width="0.8"/><ellipse cx="80.6" cy="1240.0" rx="4.0" ry="2.7" fill="#3f86d5" stroke="#1f436b" stroke-width="0.8"/><ellipse cx="90.7" cy="1240.0" rx="4.0" ry="2.7" fill="#5191d9" stroke="#28496d" stroke-width="0.8"/><ellipse cx="100.8" cy="1240.0" rx="4.0" ry="2.7" fill="#619bdd" stroke="#314e6e" stroke-width="0.8"/><ellipse cx="110.9" cy="1240.0" rx="4.0" ry="2.7" fill="#71a5e0" stroke="#385370" stroke-width="0.8"/><ellipse cx="121.1" cy="1240.0" rx="4.0" ry="2.7" fill="#7faee3" stroke="#405772" stroke-width="0.8"/><ellipse cx="131.2" cy="1240.0" rx="4.0" ry="2.7" fill="#8db7e6" stroke="#475c73" stroke-width="0.8"/><ellipse cx="141.3" cy="1240.0" rx="4.0" ry="2.7" fill="#9bc0e9" stroke="#4e6075" stroke-width="0.8"/><ellipse cx="151.4" cy="1240.0" rx="4.0" ry="2.7" fill="#a8c8ec" stroke="#546476" stroke-width="0.8"/><ellipse cx="161.5" cy="1240.0" rx="4.0" ry="2.7" fill="#b5d0ef" stroke="#5b6877" stroke-width="0.8"/><ellipse cx="171.6" cy="1240.0" rx="4.0" ry="2.7" fill="#c2d8f1" stroke="#616c79" stroke-width="0.8"/><ellipse cx="181.8" cy="1240.0" rx="4.0" ry="2.7" fill="#cee0f4" stroke="#67707a" stroke-width="0.8"/><ellipse cx="68.3" cy="1247.8" rx="4.2" ry="2.9" fill="#2676d0" stroke="#133b68" stroke-width="0.8"/><ellipse cx="78.8" cy="1247.8" rx="4.2" ry="2.9" fill="#3f86d5" stroke="#1f436b" stroke-width="0.8"/><ellipse cx="89.3" cy="1247.8" rx="4.2" ry="2.9" fill="#5191d9" stroke="#28496d" stroke-width="0.8"/><ellipse cx="99.8" cy="1247.8" rx="4.2" ry="2.9" fill="#619bdd" stroke="#314e6e" stroke-width="0.8"/><ellipse cx="110.3" cy="1247.8" rx="4.2" ry="2.9" fill="#71a5e0" stroke="#385370" stroke-width="0.8"/><ellipse cx="120.8" cy="1247.8" rx="4.2" ry="2.9" fill="#7faee3" stroke="#405772" stroke-width="0.8"/><ellipse cx="131.3" cy="1247.8" rx="4.2" ry="2.9" fill="#8db7e6" stroke="#475c73" stroke-width="0.8"/><ellipse cx="141.8" cy="1247.8" rx="4.2" ry="2.9" fill="#9bc0e9" stroke="#4e6075" stroke-width="0.8"/><ellipse cx="152.3" cy="1247.8" rx="4.2" ry="2.9" fill="#a8c8ec" stroke="#546476" stroke-width="0.8"/><ellipse cx="162.8" cy="1247.8" rx="4.2" ry="2.9" fill="#b5d0ef" stroke="#5b6877" stroke-width="0.8"/><ellipse cx="173.3" cy="1247.8" rx="4.2" ry="2.9" fill="#c2d8f1" stroke="#616c79" stroke-width="0.8"/><ellipse cx="183.8" cy="1247.8" rx="4.2" ry="2.9" fill="#cee0f4" stroke="#67707a" stroke-width="0.8"/>
</g>
<g id="pG">
<text transform="translate(702.5 951.8) scale(1 1.04)" class="b">G</text>
<rect x="802.5" y="936.8" width="296.2" height="274.6" fill="none" stroke="#000" stroke-width="1.7"/>
<path d="M787.5 978.8H802.5M787.5 1035.5H802.5M787.5 1092.0H802.5M787.5 1148.8H802.5M787.5 1207.0H802.5M814.3 1211.4V1226.9M875.8 1211.4V1226.9M937.5 1211.4V1226.9M999.0 1211.4V1226.9M1060.7 1211.4V1226.9" stroke="#000" stroke-width="1.8" fill="none"/>
<circle cx="813.8" cy="946.0" r="3.9" fill="#707070" fill-opacity="0.35" stroke="#808080" stroke-opacity="0.5" stroke-width="0.6"/><circle cx="813.8" cy="949.5" r="3.9" fill="#707070" fill-opacity="0.35" stroke="#808080" stroke-opacity="0.5" stroke-width="0.6"/><circle cx="813.8" cy="953.0" r="3.9" fill="#707070" fill-opacity="0.35" stroke="#808080" stroke-opacity="0.5" stroke-width="0.6"/><circle cx="813.8" cy="959.5" r="3.9" fill="#707070" fill-opacity="0.40" stroke="#808080" stroke-opacity="0.5" stroke-width="0.6"/><circle cx="813.8" cy="968.0" r="3.9" fill="#707070" fill-opacity="0.60" stroke="#808080" stroke-opacity="0.5" stroke-width="0.6"/><path d="M814 974L815.3 990.5C816 1004 817.5 1013 825 1018.5C838 1025.5 862 1027.4 900 1030L940 1032L990 1034L1050 1037.5L1075 1041C1082 1043 1085 1047 1085 1055L1085.3 1068" fill="none" stroke="#6c6c6c" stroke-width="9.2" stroke-linecap="round" stroke-linejoin="round"/>
<circle cx="1087" cy="1084.8" r="3.9" fill="#666" fill-opacity="0.60" stroke="#777" stroke-opacity="0.5" stroke-width="0.6"/><circle cx="1087" cy="1102.8" r="3.9" fill="#666" fill-opacity="0.70" stroke="#777" stroke-opacity="0.5" stroke-width="0.6"/><circle cx="1087" cy="1135.3" r="3.9" fill="#666" fill-opacity="0.60" stroke="#777" stroke-opacity="0.5" stroke-width="0.6"/><circle cx="1087" cy="1146.7" r="3.9" fill="#666" fill-opacity="0.65" stroke="#777" stroke-opacity="0.5" stroke-width="0.6"/><circle cx="1087" cy="1150.4" r="3.9" fill="#666" fill-opacity="0.65" stroke="#777" stroke-opacity="0.5" stroke-width="0.6"/><circle cx="1087" cy="1158.4" r="3.9" fill="#666" fill-opacity="0.40" stroke="#777" stroke-opacity="0.5" stroke-width="0.6"/><circle cx="1087" cy="1169.3" r="3.9" fill="#666" fill-opacity="0.40" stroke="#777" stroke-opacity="0.5" stroke-width="0.6"/><circle cx="1087" cy="1177.5" r="3.9" fill="#666" fill-opacity="0.40" stroke="#777" stroke-opacity="0.5" stroke-width="0.6"/><circle cx="1087" cy="1184.0" r="3.9" fill="#666" fill-opacity="0.45" stroke="#777" stroke-opacity="0.5" stroke-width="0.6"/><circle cx="1087" cy="1188.3" r="3.9" fill="#666" fill-opacity="0.45" stroke="#777" stroke-opacity="0.5" stroke-width="0.6"/><circle cx="1087" cy="1196.0" r="3.9" fill="#666" fill-opacity="0.70" stroke="#777" stroke-opacity="0.5" stroke-width="0.6"/><circle cx="1087" cy="1200.3" r="3.9" fill="#666" fill-opacity="0.70" stroke="#777" stroke-opacity="0.5" stroke-width="0.6"/>
<g fill="#0a0af0"><circle cx="815.5" cy="990.5" r="5.4"/><circle cx="1082" cy="1044.3" r="5.4"/><circle cx="1085.2" cy="1073" r="5.4"/></g>
<path d="M826.3 989.3H848M1037 1122.4L1076.2 1079.6" stroke="#000" stroke-width="3.2" fill="none"/>
<text transform="translate(849 999.7) scale(1 1.04)" class="t30">Ivermectin</text>
<text transform="translate(862 1133.2) scale(1 1.04)" class="t30">Merafloxacin</text>
<g font-size="29" text-anchor="middle">
<text transform="translate(780.3 973.5) rotate(-90) scale(1 1.04)">20</text>
<text transform="translate(780.3 1035.3) rotate(-90) scale(1 1.04)">0</text>
<text transform="translate(780.3 1092) rotate(-90) scale(1 1.04)">&#8722;20</text>
<text transform="translate(780.3 1153) rotate(-90) scale(1 1.04)">&#8722;40</text>
<text transform="translate(780.3 1214.4) rotate(-90) scale(1 1.04)">&#8722;60</text>
</g>
<g class="t30" text-anchor="middle">
<text transform="translate(815 1257.5) scale(1 1.04)">0</text><text transform="translate(933.8 1257.5) scale(1 1.04)">2000</text><text transform="translate(1061 1257.5) scale(1 1.04)">4000</text>
<text transform="translate(952.5 1295.3) scale(1 1.04)">Rank</text>
</g>
<text class="t30" transform="translate(743.8 1077.5) rotate(-90) scale(1 1.04)" text-anchor="middle">Effect (%)</text>
</g>
</svg>
</body></html>
